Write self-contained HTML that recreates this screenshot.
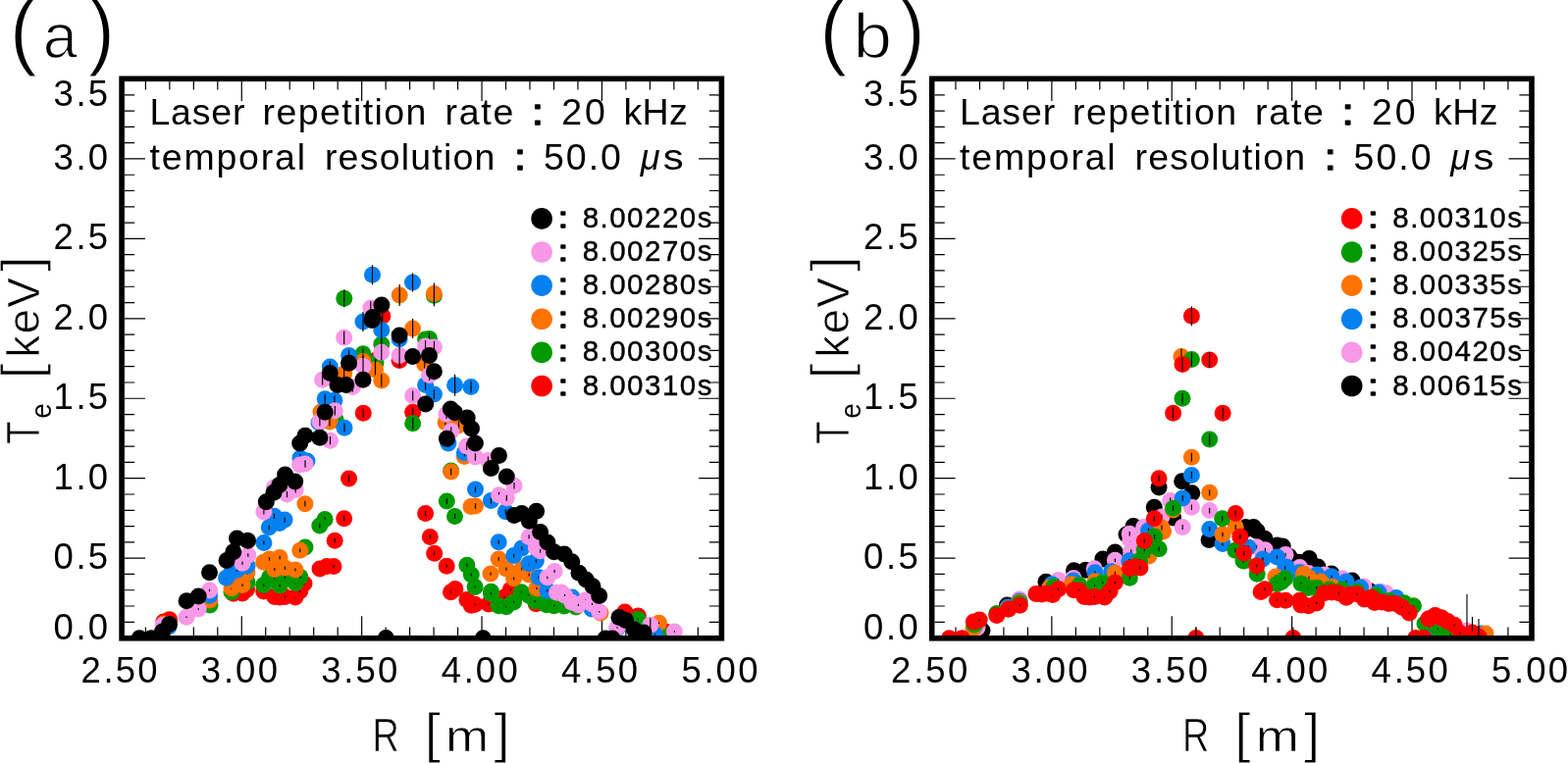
<!DOCTYPE html>
<html><head><meta charset="utf-8"><style>
html,body{margin:0;padding:0;background:#fff;width:1598px;height:778px;overflow:hidden}
svg{display:block}
text{font-family:"Liberation Sans", "DejaVu Sans", sans-serif;fill:#000}
</style></head><body>
<svg width="1598" height="778" viewBox="0 0 1598 778">
<rect width="1598" height="778" fill="#fff"/>
<g><clipPath id="clip0"><rect x="123.9" y="80.5" width="611.9" height="570.1"/></clipPath>
<path d="M148.38 648.2v-8.6M148.38 83v8.6M172.85 648.2v-8.6M172.85 83v8.6M197.33 648.2v-8.6M197.33 83v8.6M221.80 648.2v-8.6M221.80 83v8.6M246.28 648.2v-20M246.28 83v20M270.76 648.2v-8.6M270.76 83v8.6M295.23 648.2v-8.6M295.23 83v8.6M319.71 648.2v-8.6M319.71 83v8.6M344.18 648.2v-8.6M344.18 83v8.6M368.66 648.2v-20M368.66 83v20M393.14 648.2v-8.6M393.14 83v8.6M417.61 648.2v-8.6M417.61 83v8.6M442.09 648.2v-8.6M442.09 83v8.6M466.56 648.2v-8.6M466.56 83v8.6M491.04 648.2v-20M491.04 83v20M515.52 648.2v-8.6M515.52 83v8.6M539.99 648.2v-8.6M539.99 83v8.6M564.47 648.2v-8.6M564.47 83v8.6M588.94 648.2v-8.6M588.94 83v8.6M613.42 648.2v-20M613.42 83v20M637.90 648.2v-8.6M637.90 83v8.6M662.37 648.2v-8.6M662.37 83v8.6M686.85 648.2v-8.6M686.85 83v8.6M711.32 648.2v-8.6M711.32 83v8.6M127 634.31h10.2M733 634.31h-10.2M127 618.02h10.2M733 618.02h-10.2M127 601.73h10.2M733 601.73h-10.2M127 585.45h10.2M733 585.45h-10.2M127 569.16h21M733 569.16h-21M127 552.87h10.2M733 552.87h-10.2M127 536.58h10.2M733 536.58h-10.2M127 520.29h10.2M733 520.29h-10.2M127 504.00h10.2M733 504.00h-10.2M127 487.71h21M733 487.71h-21M127 471.43h10.2M733 471.43h-10.2M127 455.14h10.2M733 455.14h-10.2M127 438.85h10.2M733 438.85h-10.2M127 422.56h10.2M733 422.56h-10.2M127 406.27h21M733 406.27h-21M127 389.98h10.2M733 389.98h-10.2M127 373.69h10.2M733 373.69h-10.2M127 357.41h10.2M733 357.41h-10.2M127 341.12h10.2M733 341.12h-10.2M127 324.83h21M733 324.83h-21M127 308.54h10.2M733 308.54h-10.2M127 292.25h10.2M733 292.25h-10.2M127 275.96h10.2M733 275.96h-10.2M127 259.67h10.2M733 259.67h-10.2M127 243.39h21M733 243.39h-21M127 227.10h10.2M733 227.10h-10.2M127 210.81h10.2M733 210.81h-10.2M127 194.52h10.2M733 194.52h-10.2M127 178.23h10.2M733 178.23h-10.2M127 161.94h21M733 161.94h-21M127 145.65h10.2M733 145.65h-10.2M127 129.37h10.2M733 129.37h-10.2M127 113.08h10.2M733 113.08h-10.2M127 96.79h10.2M733 96.79h-10.2" stroke="#000" stroke-width="1.2" fill="none"/>
<g clip-path="url(#clip0)">
<circle cx="166.8" cy="634.0" r="8.5" fill="#ff0000"/>
<line x1="166.8" y1="633.3" x2="166.8" y2="634.7" stroke="#000" stroke-width="1.15"/>
<circle cx="172.7" cy="631.7" r="8.5" fill="#ff0000"/>
<line x1="172.7" y1="631.0" x2="172.7" y2="632.4" stroke="#000" stroke-width="1.15"/>
<circle cx="238.0" cy="605.3" r="8.5" fill="#ff0000"/>
<line x1="238.0" y1="604.2" x2="238.0" y2="606.4" stroke="#000" stroke-width="1.15"/>
<circle cx="247.0" cy="605.0" r="8.5" fill="#ff0000"/>
<line x1="247.0" y1="603.9" x2="247.0" y2="606.1" stroke="#000" stroke-width="1.15"/>
<circle cx="251.5" cy="601.0" r="8.5" fill="#ff0000"/>
<line x1="251.5" y1="599.8" x2="251.5" y2="602.2" stroke="#000" stroke-width="1.15"/>
<circle cx="268.7" cy="603.0" r="8.5" fill="#ff0000"/>
<line x1="268.7" y1="601.9" x2="268.7" y2="604.1" stroke="#000" stroke-width="1.15"/>
<circle cx="279.8" cy="608.5" r="8.5" fill="#ff0000"/>
<line x1="279.8" y1="607.5" x2="279.8" y2="609.5" stroke="#000" stroke-width="1.15"/>
<circle cx="285.1" cy="609.0" r="8.5" fill="#ff0000"/>
<line x1="285.1" y1="608.0" x2="285.1" y2="610.0" stroke="#000" stroke-width="1.15"/>
<circle cx="290.4" cy="608.5" r="8.5" fill="#ff0000"/>
<line x1="290.4" y1="607.5" x2="290.4" y2="609.5" stroke="#000" stroke-width="1.15"/>
<circle cx="301.0" cy="609.0" r="8.5" fill="#ff0000"/>
<line x1="301.0" y1="608.0" x2="301.0" y2="610.0" stroke="#000" stroke-width="1.15"/>
<circle cx="305.8" cy="602.7" r="8.5" fill="#ff0000"/>
<line x1="305.8" y1="601.6" x2="305.8" y2="603.8" stroke="#000" stroke-width="1.15"/>
<circle cx="310.0" cy="595.0" r="8.5" fill="#ff0000"/>
<line x1="310.0" y1="593.7" x2="310.0" y2="596.3" stroke="#000" stroke-width="1.15"/>
<circle cx="326.0" cy="579.9" r="8.5" fill="#ff0000"/>
<line x1="326.0" y1="578.3" x2="326.0" y2="581.5" stroke="#000" stroke-width="1.15"/>
<circle cx="350.7" cy="528.8" r="8.5" fill="#ff0000"/>
<line x1="350.7" y1="526.2" x2="350.7" y2="531.4" stroke="#000" stroke-width="1.15"/>
<circle cx="341.2" cy="551.3" r="8.5" fill="#ff0000"/>
<line x1="341.2" y1="549.1" x2="341.2" y2="553.5" stroke="#000" stroke-width="1.15"/>
<circle cx="355.6" cy="487.9" r="8.5" fill="#ff0000"/>
<line x1="355.6" y1="484.5" x2="355.6" y2="491.3" stroke="#000" stroke-width="1.15"/>
<circle cx="370.3" cy="421.2" r="8.5" fill="#ff0000"/>
<line x1="370.3" y1="416.5" x2="370.3" y2="425.9" stroke="#000" stroke-width="1.15"/>
<circle cx="389.8" cy="322.3" r="8.5" fill="#ff0000"/>
<line x1="389.8" y1="315.7" x2="389.8" y2="328.9" stroke="#000" stroke-width="1.15"/>
<circle cx="407.1" cy="367.4" r="8.5" fill="#ff0000"/>
<line x1="407.1" y1="361.6" x2="407.1" y2="373.2" stroke="#000" stroke-width="1.15"/>
<circle cx="382.5" cy="367.4" r="8.5" fill="#ff0000"/>
<line x1="382.5" y1="361.6" x2="382.5" y2="373.2" stroke="#000" stroke-width="1.15"/>
<circle cx="420.7" cy="420.2" r="8.5" fill="#ff0000"/>
<line x1="420.7" y1="415.5" x2="420.7" y2="424.9" stroke="#000" stroke-width="1.15"/>
<circle cx="433.6" cy="523.5" r="8.5" fill="#ff0000"/>
<line x1="433.6" y1="520.8" x2="433.6" y2="526.2" stroke="#000" stroke-width="1.15"/>
<circle cx="438.3" cy="547.4" r="8.5" fill="#ff0000"/>
<line x1="438.3" y1="545.2" x2="438.3" y2="549.6" stroke="#000" stroke-width="1.15"/>
<circle cx="442.7" cy="564.2" r="8.5" fill="#ff0000"/>
<line x1="442.7" y1="562.3" x2="442.7" y2="566.1" stroke="#000" stroke-width="1.15"/>
<circle cx="455.2" cy="577.2" r="8.5" fill="#ff0000"/>
<line x1="455.2" y1="575.6" x2="455.2" y2="578.8" stroke="#000" stroke-width="1.15"/>
<circle cx="463.9" cy="600.4" r="8.5" fill="#ff0000"/>
<line x1="463.9" y1="599.2" x2="463.9" y2="601.6" stroke="#000" stroke-width="1.15"/>
<circle cx="459.5" cy="603.7" r="8.5" fill="#ff0000"/>
<line x1="459.5" y1="602.6" x2="459.5" y2="604.8" stroke="#000" stroke-width="1.15"/>
<circle cx="520.3" cy="601.3" r="8.5" fill="#ff0000"/>
<line x1="520.3" y1="600.1" x2="520.3" y2="602.5" stroke="#000" stroke-width="1.15"/>
<circle cx="475.9" cy="611.5" r="8.5" fill="#ff0000"/>
<line x1="475.9" y1="610.5" x2="475.9" y2="612.5" stroke="#000" stroke-width="1.15"/>
<circle cx="480.3" cy="617.3" r="8.5" fill="#ff0000"/>
<line x1="480.3" y1="616.4" x2="480.3" y2="618.2" stroke="#000" stroke-width="1.15"/>
<circle cx="484.1" cy="616.3" r="8.5" fill="#ff0000"/>
<line x1="484.1" y1="615.4" x2="484.1" y2="617.2" stroke="#000" stroke-width="1.15"/>
<circle cx="498.0" cy="616.0" r="8.5" fill="#ff0000"/>
<line x1="498.0" y1="615.1" x2="498.0" y2="616.9" stroke="#000" stroke-width="1.15"/>
<circle cx="514.0" cy="609.0" r="8.5" fill="#ff0000"/>
<line x1="514.0" y1="608.0" x2="514.0" y2="610.0" stroke="#000" stroke-width="1.15"/>
<circle cx="546.3" cy="615.8" r="8.5" fill="#ff0000"/>
<line x1="546.3" y1="614.9" x2="546.3" y2="616.7" stroke="#000" stroke-width="1.15"/>
<circle cx="572.0" cy="614.0" r="8.5" fill="#ff0000"/>
<line x1="572.0" y1="613.1" x2="572.0" y2="614.9" stroke="#000" stroke-width="1.15"/>
<circle cx="636.8" cy="624.0" r="8.5" fill="#ff0000"/>
<line x1="636.8" y1="623.3" x2="636.8" y2="624.7" stroke="#000" stroke-width="1.15"/>
<circle cx="650.3" cy="628.0" r="8.5" fill="#ff0000"/>
<line x1="650.3" y1="627.3" x2="650.3" y2="628.7" stroke="#000" stroke-width="1.15"/>
<circle cx="678.2" cy="644.0" r="8.5" fill="#ff0000"/>
<line x1="678.2" y1="643.3" x2="678.2" y2="644.7" stroke="#000" stroke-width="1.15"/>
<circle cx="333.0" cy="577.5" r="8.5" fill="#ff0000"/>
<line x1="333.0" y1="575.9" x2="333.0" y2="579.1" stroke="#000" stroke-width="1.15"/>
<circle cx="340.0" cy="577.5" r="8.5" fill="#ff0000"/>
<line x1="340.0" y1="575.9" x2="340.0" y2="579.1" stroke="#000" stroke-width="1.15"/>
<circle cx="214.0" cy="616.9" r="8.5" fill="#009a00"/>
<line x1="214.0" y1="616.0" x2="214.0" y2="617.8" stroke="#000" stroke-width="1.15"/>
<circle cx="236.0" cy="603.4" r="8.5" fill="#009a00"/>
<line x1="236.0" y1="602.3" x2="236.0" y2="604.5" stroke="#000" stroke-width="1.15"/>
<circle cx="252.0" cy="593.6" r="8.5" fill="#009a00"/>
<line x1="252.0" y1="592.3" x2="252.0" y2="594.9" stroke="#000" stroke-width="1.15"/>
<circle cx="268.7" cy="596.5" r="8.5" fill="#009a00"/>
<line x1="268.7" y1="595.2" x2="268.7" y2="597.8" stroke="#000" stroke-width="1.15"/>
<circle cx="274.5" cy="588.7" r="8.5" fill="#009a00"/>
<line x1="274.5" y1="587.3" x2="274.5" y2="590.1" stroke="#000" stroke-width="1.15"/>
<circle cx="279.8" cy="590.2" r="8.5" fill="#009a00"/>
<line x1="279.8" y1="588.8" x2="279.8" y2="591.6" stroke="#000" stroke-width="1.15"/>
<circle cx="285.1" cy="597.0" r="8.5" fill="#009a00"/>
<line x1="285.1" y1="595.7" x2="285.1" y2="598.3" stroke="#000" stroke-width="1.15"/>
<circle cx="290.4" cy="588.3" r="8.5" fill="#009a00"/>
<line x1="290.4" y1="586.9" x2="290.4" y2="589.7" stroke="#000" stroke-width="1.15"/>
<circle cx="301.0" cy="594.5" r="8.5" fill="#009a00"/>
<line x1="301.0" y1="593.2" x2="301.0" y2="595.8" stroke="#000" stroke-width="1.15"/>
<circle cx="305.8" cy="588.3" r="8.5" fill="#009a00"/>
<line x1="305.8" y1="586.9" x2="305.8" y2="589.7" stroke="#000" stroke-width="1.15"/>
<circle cx="311.0" cy="558.0" r="8.5" fill="#009a00"/>
<line x1="311.0" y1="556.0" x2="311.0" y2="560.0" stroke="#000" stroke-width="1.15"/>
<circle cx="331.1" cy="529.6" r="8.5" fill="#009a00"/>
<line x1="331.1" y1="527.0" x2="331.1" y2="532.2" stroke="#000" stroke-width="1.15"/>
<circle cx="325.8" cy="535.9" r="8.5" fill="#009a00"/>
<line x1="325.8" y1="533.4" x2="325.8" y2="538.4" stroke="#000" stroke-width="1.15"/>
<circle cx="342.0" cy="428.0" r="8.5" fill="#009a00"/>
<line x1="342.0" y1="423.4" x2="342.0" y2="432.6" stroke="#000" stroke-width="1.15"/>
<circle cx="388.8" cy="351.0" r="8.5" fill="#009a00"/>
<line x1="388.8" y1="344.9" x2="388.8" y2="357.1" stroke="#000" stroke-width="1.15"/>
<circle cx="433.6" cy="346.0" r="8.5" fill="#009a00"/>
<line x1="433.6" y1="339.8" x2="433.6" y2="352.2" stroke="#000" stroke-width="1.15"/>
<circle cx="437.5" cy="345.5" r="8.5" fill="#009a00"/>
<line x1="437.5" y1="339.3" x2="437.5" y2="351.7" stroke="#000" stroke-width="1.15"/>
<circle cx="370.0" cy="360.7" r="8.5" fill="#009a00"/>
<line x1="370.0" y1="354.8" x2="370.0" y2="366.6" stroke="#000" stroke-width="1.15"/>
<circle cx="383.0" cy="370.0" r="8.5" fill="#009a00"/>
<line x1="383.0" y1="364.3" x2="383.0" y2="375.7" stroke="#000" stroke-width="1.15"/>
<circle cx="350.8" cy="304.3" r="8.5" fill="#009a00"/>
<line x1="350.8" y1="295.3" x2="350.8" y2="313.3" stroke="#000" stroke-width="1.15"/>
<circle cx="442.4" cy="301.3" r="8.5" fill="#009a00"/>
<line x1="442.4" y1="290.3" x2="442.4" y2="312.3" stroke="#000" stroke-width="1.15"/>
<circle cx="420.7" cy="431.8" r="8.5" fill="#009a00"/>
<line x1="420.7" y1="425.8" x2="420.7" y2="437.8" stroke="#000" stroke-width="1.15"/>
<circle cx="459.7" cy="480.0" r="8.5" fill="#009a00"/>
<line x1="459.7" y1="476.4" x2="459.7" y2="483.6" stroke="#000" stroke-width="1.15"/>
<circle cx="455.3" cy="511.0" r="8.5" fill="#009a00"/>
<line x1="455.3" y1="508.1" x2="455.3" y2="513.9" stroke="#000" stroke-width="1.15"/>
<circle cx="463.5" cy="526.4" r="8.5" fill="#009a00"/>
<line x1="463.5" y1="523.8" x2="463.5" y2="529.0" stroke="#000" stroke-width="1.15"/>
<circle cx="475.9" cy="576.3" r="8.5" fill="#009a00"/>
<line x1="475.9" y1="574.6" x2="475.9" y2="578.0" stroke="#000" stroke-width="1.15"/>
<circle cx="480.3" cy="585.9" r="8.5" fill="#009a00"/>
<line x1="480.3" y1="584.4" x2="480.3" y2="587.4" stroke="#000" stroke-width="1.15"/>
<circle cx="484.1" cy="598.4" r="8.5" fill="#009a00"/>
<line x1="484.1" y1="597.2" x2="484.1" y2="599.6" stroke="#000" stroke-width="1.15"/>
<circle cx="500.5" cy="603.3" r="8.5" fill="#009a00"/>
<line x1="500.5" y1="602.2" x2="500.5" y2="604.4" stroke="#000" stroke-width="1.15"/>
<circle cx="531.3" cy="603.7" r="8.5" fill="#009a00"/>
<line x1="531.3" y1="602.6" x2="531.3" y2="604.8" stroke="#000" stroke-width="1.15"/>
<circle cx="500.5" cy="605.2" r="8.5" fill="#009a00"/>
<line x1="500.5" y1="604.1" x2="500.5" y2="606.3" stroke="#000" stroke-width="1.15"/>
<circle cx="508.2" cy="617.8" r="8.5" fill="#009a00"/>
<line x1="508.2" y1="617.0" x2="508.2" y2="618.6" stroke="#000" stroke-width="1.15"/>
<circle cx="515.9" cy="618.7" r="8.5" fill="#009a00"/>
<line x1="515.9" y1="617.9" x2="515.9" y2="619.5" stroke="#000" stroke-width="1.15"/>
<circle cx="523.6" cy="613.9" r="8.5" fill="#009a00"/>
<line x1="523.6" y1="613.0" x2="523.6" y2="614.8" stroke="#000" stroke-width="1.15"/>
<circle cx="539.1" cy="607.2" r="8.5" fill="#009a00"/>
<line x1="539.1" y1="606.1" x2="539.1" y2="608.3" stroke="#000" stroke-width="1.15"/>
<circle cx="545.3" cy="613.0" r="8.5" fill="#009a00"/>
<line x1="545.3" y1="612.1" x2="545.3" y2="613.9" stroke="#000" stroke-width="1.15"/>
<circle cx="556.9" cy="616.8" r="8.5" fill="#009a00"/>
<line x1="556.9" y1="615.9" x2="556.9" y2="617.7" stroke="#000" stroke-width="1.15"/>
<circle cx="564.6" cy="617.8" r="8.5" fill="#009a00"/>
<line x1="564.6" y1="617.0" x2="564.6" y2="618.6" stroke="#000" stroke-width="1.15"/>
<circle cx="575.0" cy="618.0" r="8.5" fill="#009a00"/>
<line x1="575.0" y1="617.2" x2="575.0" y2="618.8" stroke="#000" stroke-width="1.15"/>
<circle cx="587.0" cy="619.0" r="8.5" fill="#009a00"/>
<line x1="587.0" y1="618.2" x2="587.0" y2="619.8" stroke="#000" stroke-width="1.15"/>
<circle cx="650.3" cy="631.5" r="8.5" fill="#009a00"/>
<line x1="650.3" y1="630.8" x2="650.3" y2="632.2" stroke="#000" stroke-width="1.15"/>
<circle cx="674.4" cy="646.9" r="8.5" fill="#009a00"/>
<line x1="674.4" y1="646.2" x2="674.4" y2="647.6" stroke="#000" stroke-width="1.15"/>
<circle cx="167.0" cy="636.0" r="8.5" fill="#ff7300"/>
<line x1="167.0" y1="635.3" x2="167.0" y2="636.7" stroke="#000" stroke-width="1.15"/>
<circle cx="213.8" cy="612.1" r="8.5" fill="#ff7300"/>
<line x1="213.8" y1="611.1" x2="213.8" y2="613.1" stroke="#000" stroke-width="1.15"/>
<circle cx="235.9" cy="599.8" r="8.5" fill="#ff7300"/>
<line x1="235.9" y1="598.6" x2="235.9" y2="601.0" stroke="#000" stroke-width="1.15"/>
<circle cx="241.7" cy="594.0" r="8.5" fill="#ff7300"/>
<line x1="241.7" y1="592.7" x2="241.7" y2="595.3" stroke="#000" stroke-width="1.15"/>
<circle cx="247.0" cy="596.6" r="8.5" fill="#ff7300"/>
<line x1="247.0" y1="595.3" x2="247.0" y2="597.9" stroke="#000" stroke-width="1.15"/>
<circle cx="252.0" cy="584.0" r="8.5" fill="#ff7300"/>
<line x1="252.0" y1="582.5" x2="252.0" y2="585.5" stroke="#000" stroke-width="1.15"/>
<circle cx="268.7" cy="573.3" r="8.5" fill="#ff7300"/>
<line x1="268.7" y1="571.6" x2="268.7" y2="575.0" stroke="#000" stroke-width="1.15"/>
<circle cx="274.5" cy="570.0" r="8.5" fill="#ff7300"/>
<line x1="274.5" y1="568.2" x2="274.5" y2="571.8" stroke="#000" stroke-width="1.15"/>
<circle cx="285.1" cy="568.5" r="8.5" fill="#ff7300"/>
<line x1="285.1" y1="566.7" x2="285.1" y2="570.3" stroke="#000" stroke-width="1.15"/>
<circle cx="279.8" cy="580.5" r="8.5" fill="#ff7300"/>
<line x1="279.8" y1="578.9" x2="279.8" y2="582.1" stroke="#000" stroke-width="1.15"/>
<circle cx="290.4" cy="579.1" r="8.5" fill="#ff7300"/>
<line x1="290.4" y1="577.5" x2="290.4" y2="580.7" stroke="#000" stroke-width="1.15"/>
<circle cx="301.0" cy="581.0" r="8.5" fill="#ff7300"/>
<line x1="301.0" y1="579.4" x2="301.0" y2="582.6" stroke="#000" stroke-width="1.15"/>
<circle cx="305.8" cy="561.3" r="8.5" fill="#ff7300"/>
<line x1="305.8" y1="559.3" x2="305.8" y2="563.3" stroke="#000" stroke-width="1.15"/>
<circle cx="310.9" cy="513.7" r="8.5" fill="#ff7300"/>
<line x1="310.9" y1="510.8" x2="310.9" y2="516.6" stroke="#000" stroke-width="1.15"/>
<circle cx="327.0" cy="420.0" r="8.5" fill="#ff7300"/>
<line x1="327.0" y1="415.3" x2="327.0" y2="424.7" stroke="#000" stroke-width="1.15"/>
<circle cx="336.0" cy="430.0" r="8.5" fill="#ff7300"/>
<line x1="336.0" y1="425.5" x2="336.0" y2="434.5" stroke="#000" stroke-width="1.15"/>
<circle cx="420.6" cy="335.1" r="8.5" fill="#ff7300"/>
<line x1="420.6" y1="325.1" x2="420.6" y2="345.1" stroke="#000" stroke-width="1.15"/>
<circle cx="432.7" cy="371.3" r="8.5" fill="#ff7300"/>
<line x1="432.7" y1="365.6" x2="432.7" y2="377.0" stroke="#000" stroke-width="1.15"/>
<circle cx="350.7" cy="380.9" r="8.5" fill="#ff7300"/>
<line x1="350.7" y1="375.4" x2="350.7" y2="386.4" stroke="#000" stroke-width="1.15"/>
<circle cx="370.0" cy="368.4" r="8.5" fill="#ff7300"/>
<line x1="370.0" y1="362.7" x2="370.0" y2="374.1" stroke="#000" stroke-width="1.15"/>
<circle cx="382.5" cy="377.1" r="8.5" fill="#ff7300"/>
<line x1="382.5" y1="367.1" x2="382.5" y2="387.1" stroke="#000" stroke-width="1.15"/>
<circle cx="388.8" cy="388.1" r="8.5" fill="#ff7300"/>
<line x1="388.8" y1="381.6" x2="388.8" y2="394.6" stroke="#000" stroke-width="1.15"/>
<circle cx="407.2" cy="301.0" r="8.5" fill="#ff7300"/>
<line x1="407.2" y1="290.0" x2="407.2" y2="312.0" stroke="#000" stroke-width="1.15"/>
<circle cx="442.4" cy="299.5" r="8.5" fill="#ff7300"/>
<line x1="442.4" y1="288.5" x2="442.4" y2="310.5" stroke="#000" stroke-width="1.15"/>
<circle cx="454.0" cy="430.8" r="8.5" fill="#ff7300"/>
<line x1="454.0" y1="426.3" x2="454.0" y2="435.3" stroke="#000" stroke-width="1.15"/>
<circle cx="467.5" cy="433.7" r="8.5" fill="#ff7300"/>
<line x1="467.5" y1="429.2" x2="467.5" y2="438.2" stroke="#000" stroke-width="1.15"/>
<circle cx="473.3" cy="465.6" r="8.5" fill="#ff7300"/>
<line x1="473.3" y1="461.8" x2="473.3" y2="469.4" stroke="#000" stroke-width="1.15"/>
<circle cx="459.7" cy="481.1" r="8.5" fill="#ff7300"/>
<line x1="459.7" y1="477.6" x2="459.7" y2="484.6" stroke="#000" stroke-width="1.15"/>
<circle cx="480.0" cy="516.5" r="8.5" fill="#ff7300"/>
<line x1="480.0" y1="513.7" x2="480.0" y2="519.3" stroke="#000" stroke-width="1.15"/>
<circle cx="484.5" cy="516.0" r="8.5" fill="#ff7300"/>
<line x1="484.5" y1="513.2" x2="484.5" y2="518.8" stroke="#000" stroke-width="1.15"/>
<circle cx="508.2" cy="570.0" r="8.5" fill="#ff7300"/>
<line x1="508.2" y1="568.2" x2="508.2" y2="571.8" stroke="#000" stroke-width="1.15"/>
<circle cx="500.0" cy="585.0" r="8.5" fill="#ff7300"/>
<line x1="500.0" y1="583.5" x2="500.0" y2="586.5" stroke="#000" stroke-width="1.15"/>
<circle cx="515.9" cy="580.1" r="8.5" fill="#ff7300"/>
<line x1="515.9" y1="578.5" x2="515.9" y2="581.7" stroke="#000" stroke-width="1.15"/>
<circle cx="523.6" cy="589.8" r="8.5" fill="#ff7300"/>
<line x1="523.6" y1="588.4" x2="523.6" y2="591.2" stroke="#000" stroke-width="1.15"/>
<circle cx="531.8" cy="580.1" r="8.5" fill="#ff7300"/>
<line x1="531.8" y1="578.5" x2="531.8" y2="581.7" stroke="#000" stroke-width="1.15"/>
<circle cx="539.1" cy="585.9" r="8.5" fill="#ff7300"/>
<line x1="539.1" y1="584.4" x2="539.1" y2="587.4" stroke="#000" stroke-width="1.15"/>
<circle cx="547.0" cy="600.0" r="8.5" fill="#ff7300"/>
<line x1="547.0" y1="598.8" x2="547.0" y2="601.2" stroke="#000" stroke-width="1.15"/>
<circle cx="612.0" cy="625.0" r="8.5" fill="#ff7300"/>
<line x1="612.0" y1="624.3" x2="612.0" y2="625.7" stroke="#000" stroke-width="1.15"/>
<circle cx="671.5" cy="635.3" r="8.5" fill="#ff7300"/>
<line x1="671.5" y1="634.6" x2="671.5" y2="636.0" stroke="#000" stroke-width="1.15"/>
<circle cx="172.0" cy="639.0" r="8.5" fill="#0580f0"/>
<line x1="172.0" y1="638.3" x2="172.0" y2="639.7" stroke="#000" stroke-width="1.15"/>
<circle cx="213.5" cy="607.2" r="8.5" fill="#0580f0"/>
<line x1="213.5" y1="606.1" x2="213.5" y2="608.3" stroke="#000" stroke-width="1.15"/>
<circle cx="230.6" cy="589.2" r="8.5" fill="#0580f0"/>
<line x1="230.6" y1="587.8" x2="230.6" y2="590.6" stroke="#000" stroke-width="1.15"/>
<circle cx="235.9" cy="583.4" r="8.5" fill="#0580f0"/>
<line x1="235.9" y1="581.9" x2="235.9" y2="584.9" stroke="#000" stroke-width="1.15"/>
<circle cx="241.7" cy="581.0" r="8.5" fill="#0580f0"/>
<line x1="241.7" y1="579.4" x2="241.7" y2="582.6" stroke="#000" stroke-width="1.15"/>
<circle cx="252.0" cy="577.0" r="8.5" fill="#0580f0"/>
<line x1="252.0" y1="575.4" x2="252.0" y2="578.6" stroke="#000" stroke-width="1.15"/>
<circle cx="268.9" cy="553.5" r="8.5" fill="#0580f0"/>
<line x1="268.9" y1="551.4" x2="268.9" y2="555.6" stroke="#000" stroke-width="1.15"/>
<circle cx="274.2" cy="537.8" r="8.5" fill="#0580f0"/>
<line x1="274.2" y1="535.4" x2="274.2" y2="540.2" stroke="#000" stroke-width="1.15"/>
<circle cx="284.8" cy="533.5" r="8.5" fill="#0580f0"/>
<line x1="284.8" y1="531.0" x2="284.8" y2="536.0" stroke="#000" stroke-width="1.15"/>
<circle cx="290.1" cy="530.1" r="8.5" fill="#0580f0"/>
<line x1="290.1" y1="527.5" x2="290.1" y2="532.7" stroke="#000" stroke-width="1.15"/>
<circle cx="279.5" cy="526.3" r="8.5" fill="#0580f0"/>
<line x1="279.5" y1="523.7" x2="279.5" y2="528.9" stroke="#000" stroke-width="1.15"/>
<circle cx="306.0" cy="467.0" r="8.5" fill="#0580f0"/>
<line x1="306.0" y1="463.2" x2="306.0" y2="470.8" stroke="#000" stroke-width="1.15"/>
<circle cx="313.0" cy="470.0" r="8.5" fill="#0580f0"/>
<line x1="313.0" y1="466.3" x2="313.0" y2="473.7" stroke="#000" stroke-width="1.15"/>
<circle cx="325.0" cy="431.0" r="8.5" fill="#0580f0"/>
<line x1="325.0" y1="426.5" x2="325.0" y2="435.5" stroke="#000" stroke-width="1.15"/>
<circle cx="331.2" cy="406.7" r="8.5" fill="#0580f0"/>
<line x1="331.2" y1="401.7" x2="331.2" y2="411.7" stroke="#000" stroke-width="1.15"/>
<circle cx="340.9" cy="408.2" r="8.5" fill="#0580f0"/>
<line x1="340.9" y1="403.2" x2="340.9" y2="413.2" stroke="#000" stroke-width="1.15"/>
<circle cx="351.0" cy="436.2" r="8.5" fill="#0580f0"/>
<line x1="351.0" y1="431.8" x2="351.0" y2="440.6" stroke="#000" stroke-width="1.15"/>
<circle cx="370.0" cy="327.9" r="8.5" fill="#0580f0"/>
<line x1="370.0" y1="317.9" x2="370.0" y2="337.9" stroke="#000" stroke-width="1.15"/>
<circle cx="388.8" cy="336.6" r="8.5" fill="#0580f0"/>
<line x1="388.8" y1="323.6" x2="388.8" y2="349.6" stroke="#000" stroke-width="1.15"/>
<circle cx="407.1" cy="345.7" r="8.5" fill="#0580f0"/>
<line x1="407.1" y1="339.5" x2="407.1" y2="351.9" stroke="#000" stroke-width="1.15"/>
<circle cx="433.6" cy="392.5" r="8.5" fill="#0580f0"/>
<line x1="433.6" y1="387.2" x2="433.6" y2="397.8" stroke="#000" stroke-width="1.15"/>
<circle cx="336.3" cy="374.0" r="8.5" fill="#0580f0"/>
<line x1="336.3" y1="368.4" x2="336.3" y2="379.6" stroke="#000" stroke-width="1.15"/>
<circle cx="355.6" cy="362.6" r="8.5" fill="#0580f0"/>
<line x1="355.6" y1="356.7" x2="355.6" y2="368.5" stroke="#000" stroke-width="1.15"/>
<circle cx="379.5" cy="280.2" r="8.5" fill="#0580f0"/>
<line x1="379.5" y1="270.2" x2="379.5" y2="290.2" stroke="#000" stroke-width="1.15"/>
<circle cx="420.5" cy="288.0" r="8.5" fill="#0580f0"/>
<line x1="420.5" y1="278.5" x2="420.5" y2="297.5" stroke="#000" stroke-width="1.15"/>
<circle cx="442.4" cy="402.0" r="8.5" fill="#0580f0"/>
<line x1="442.4" y1="396.9" x2="442.4" y2="407.1" stroke="#000" stroke-width="1.15"/>
<circle cx="463.6" cy="392.7" r="8.5" fill="#0580f0"/>
<line x1="463.6" y1="381.7" x2="463.6" y2="403.7" stroke="#000" stroke-width="1.15"/>
<circle cx="480.0" cy="394.4" r="8.5" fill="#0580f0"/>
<line x1="480.0" y1="388.4" x2="480.0" y2="400.4" stroke="#000" stroke-width="1.15"/>
<circle cx="456.9" cy="452.0" r="8.5" fill="#0580f0"/>
<line x1="456.9" y1="447.9" x2="456.9" y2="456.1" stroke="#000" stroke-width="1.15"/>
<circle cx="473.3" cy="461.7" r="8.5" fill="#0580f0"/>
<line x1="473.3" y1="457.8" x2="473.3" y2="465.6" stroke="#000" stroke-width="1.15"/>
<circle cx="484.5" cy="499.0" r="8.5" fill="#0580f0"/>
<line x1="484.5" y1="495.8" x2="484.5" y2="502.2" stroke="#000" stroke-width="1.15"/>
<circle cx="500.4" cy="510.6" r="8.5" fill="#0580f0"/>
<line x1="500.4" y1="507.6" x2="500.4" y2="513.6" stroke="#000" stroke-width="1.15"/>
<circle cx="515.3" cy="521.7" r="8.5" fill="#0580f0"/>
<line x1="515.3" y1="519.0" x2="515.3" y2="524.4" stroke="#000" stroke-width="1.15"/>
<circle cx="508.2" cy="552.7" r="8.5" fill="#0580f0"/>
<line x1="508.2" y1="550.6" x2="508.2" y2="554.8" stroke="#000" stroke-width="1.15"/>
<circle cx="523.6" cy="566.6" r="8.5" fill="#0580f0"/>
<line x1="523.6" y1="564.7" x2="523.6" y2="568.5" stroke="#000" stroke-width="1.15"/>
<circle cx="531.8" cy="558.9" r="8.5" fill="#0580f0"/>
<line x1="531.8" y1="556.9" x2="531.8" y2="560.9" stroke="#000" stroke-width="1.15"/>
<circle cx="539.1" cy="574.8" r="8.5" fill="#0580f0"/>
<line x1="539.1" y1="573.1" x2="539.1" y2="576.5" stroke="#000" stroke-width="1.15"/>
<circle cx="546.3" cy="571.9" r="8.5" fill="#0580f0"/>
<line x1="546.3" y1="570.2" x2="546.3" y2="573.6" stroke="#000" stroke-width="1.15"/>
<circle cx="549.2" cy="588.8" r="8.5" fill="#0580f0"/>
<line x1="549.2" y1="587.4" x2="549.2" y2="590.2" stroke="#000" stroke-width="1.15"/>
<circle cx="557.9" cy="602.3" r="8.5" fill="#0580f0"/>
<line x1="557.9" y1="601.2" x2="557.9" y2="603.4" stroke="#000" stroke-width="1.15"/>
<circle cx="583.0" cy="609.0" r="8.5" fill="#0580f0"/>
<line x1="583.0" y1="608.0" x2="583.0" y2="610.0" stroke="#000" stroke-width="1.15"/>
<circle cx="603.0" cy="621.0" r="8.5" fill="#0580f0"/>
<line x1="603.0" y1="620.2" x2="603.0" y2="621.8" stroke="#000" stroke-width="1.15"/>
<circle cx="629.0" cy="641.0" r="8.5" fill="#0580f0"/>
<line x1="629.0" y1="640.3" x2="629.0" y2="641.7" stroke="#000" stroke-width="1.15"/>
<circle cx="667.6" cy="646.9" r="8.5" fill="#0580f0"/>
<line x1="667.6" y1="646.2" x2="667.6" y2="647.6" stroke="#000" stroke-width="1.15"/>
<circle cx="166.0" cy="637.5" r="8.5" fill="#f898e8"/>
<line x1="166.0" y1="636.8" x2="166.0" y2="638.2" stroke="#000" stroke-width="1.15"/>
<circle cx="202.2" cy="621.0" r="8.5" fill="#f898e8"/>
<line x1="202.2" y1="620.2" x2="202.2" y2="621.8" stroke="#000" stroke-width="1.15"/>
<circle cx="190.1" cy="629.2" r="8.5" fill="#f898e8"/>
<line x1="190.1" y1="628.5" x2="190.1" y2="629.9" stroke="#000" stroke-width="1.15"/>
<circle cx="213.5" cy="601.9" r="8.5" fill="#f898e8"/>
<line x1="213.5" y1="600.7" x2="213.5" y2="603.1" stroke="#000" stroke-width="1.15"/>
<circle cx="252.8" cy="566.1" r="8.5" fill="#f898e8"/>
<line x1="252.8" y1="564.2" x2="252.8" y2="568.0" stroke="#000" stroke-width="1.15"/>
<circle cx="247.0" cy="574.3" r="8.5" fill="#f898e8"/>
<line x1="247.0" y1="572.6" x2="247.0" y2="576.0" stroke="#000" stroke-width="1.15"/>
<circle cx="268.9" cy="521.9" r="8.5" fill="#f898e8"/>
<line x1="268.9" y1="519.2" x2="268.9" y2="524.6" stroke="#000" stroke-width="1.15"/>
<circle cx="292.5" cy="504.1" r="8.5" fill="#f898e8"/>
<line x1="292.5" y1="501.0" x2="292.5" y2="507.2" stroke="#000" stroke-width="1.15"/>
<circle cx="301.2" cy="499.3" r="8.5" fill="#f898e8"/>
<line x1="301.2" y1="496.1" x2="301.2" y2="502.5" stroke="#000" stroke-width="1.15"/>
<circle cx="305.7" cy="474.0" r="8.5" fill="#f898e8"/>
<line x1="305.7" y1="470.3" x2="305.7" y2="477.7" stroke="#000" stroke-width="1.15"/>
<circle cx="311.0" cy="473.0" r="8.5" fill="#f898e8"/>
<line x1="311.0" y1="469.3" x2="311.0" y2="476.7" stroke="#000" stroke-width="1.15"/>
<circle cx="336.5" cy="449.2" r="8.5" fill="#f898e8"/>
<line x1="336.5" y1="445.0" x2="336.5" y2="453.4" stroke="#000" stroke-width="1.15"/>
<circle cx="325.9" cy="429.9" r="8.5" fill="#f898e8"/>
<line x1="325.9" y1="425.4" x2="325.9" y2="434.4" stroke="#000" stroke-width="1.15"/>
<circle cx="341.3" cy="418.8" r="8.5" fill="#f898e8"/>
<line x1="341.3" y1="414.0" x2="341.3" y2="423.6" stroke="#000" stroke-width="1.15"/>
<circle cx="350.7" cy="344.3" r="8.5" fill="#f898e8"/>
<line x1="350.7" y1="337.6" x2="350.7" y2="351.0" stroke="#000" stroke-width="1.15"/>
<circle cx="388.8" cy="359.2" r="8.5" fill="#f898e8"/>
<line x1="388.8" y1="351.2" x2="388.8" y2="367.2" stroke="#000" stroke-width="1.15"/>
<circle cx="407.1" cy="362.6" r="8.5" fill="#f898e8"/>
<line x1="407.1" y1="350.6" x2="407.1" y2="374.6" stroke="#000" stroke-width="1.15"/>
<circle cx="433.6" cy="353.0" r="8.5" fill="#f898e8"/>
<line x1="433.6" y1="347.0" x2="433.6" y2="359.0" stroke="#000" stroke-width="1.15"/>
<circle cx="437.6" cy="382.5" r="8.5" fill="#f898e8"/>
<line x1="437.6" y1="377.0" x2="437.6" y2="388.0" stroke="#000" stroke-width="1.15"/>
<circle cx="420.7" cy="403.5" r="8.5" fill="#f898e8"/>
<line x1="420.7" y1="398.4" x2="420.7" y2="408.6" stroke="#000" stroke-width="1.15"/>
<circle cx="328.6" cy="387.2" r="8.5" fill="#f898e8"/>
<line x1="328.6" y1="381.8" x2="328.6" y2="392.6" stroke="#000" stroke-width="1.15"/>
<circle cx="370.0" cy="373.2" r="8.5" fill="#f898e8"/>
<line x1="370.0" y1="360.7" x2="370.0" y2="385.7" stroke="#000" stroke-width="1.15"/>
<circle cx="359.4" cy="394.4" r="8.5" fill="#f898e8"/>
<line x1="359.4" y1="389.2" x2="359.4" y2="399.6" stroke="#000" stroke-width="1.15"/>
<circle cx="377.8" cy="314.0" r="8.5" fill="#f898e8"/>
<line x1="377.8" y1="307.2" x2="377.8" y2="320.8" stroke="#000" stroke-width="1.15"/>
<circle cx="442.4" cy="354.1" r="8.5" fill="#f898e8"/>
<line x1="442.4" y1="348.1" x2="442.4" y2="360.1" stroke="#000" stroke-width="1.15"/>
<circle cx="455.0" cy="422.2" r="8.5" fill="#f898e8"/>
<line x1="455.0" y1="417.5" x2="455.0" y2="426.9" stroke="#000" stroke-width="1.15"/>
<circle cx="459.8" cy="439.5" r="8.5" fill="#f898e8"/>
<line x1="459.8" y1="435.2" x2="459.8" y2="443.8" stroke="#000" stroke-width="1.15"/>
<circle cx="475.7" cy="455.0" r="8.5" fill="#f898e8"/>
<line x1="475.7" y1="451.0" x2="475.7" y2="459.0" stroke="#000" stroke-width="1.15"/>
<circle cx="484.4" cy="466.0" r="8.5" fill="#f898e8"/>
<line x1="484.4" y1="462.2" x2="484.4" y2="469.8" stroke="#000" stroke-width="1.15"/>
<circle cx="497.4" cy="469.4" r="8.5" fill="#f898e8"/>
<line x1="497.4" y1="465.6" x2="497.4" y2="473.2" stroke="#000" stroke-width="1.15"/>
<circle cx="524.0" cy="495.2" r="8.5" fill="#f898e8"/>
<line x1="524.0" y1="491.9" x2="524.0" y2="498.5" stroke="#000" stroke-width="1.15"/>
<circle cx="508.6" cy="504.8" r="8.5" fill="#f898e8"/>
<line x1="508.6" y1="501.7" x2="508.6" y2="507.9" stroke="#000" stroke-width="1.15"/>
<circle cx="516.3" cy="507.7" r="8.5" fill="#f898e8"/>
<line x1="516.3" y1="504.7" x2="516.3" y2="510.7" stroke="#000" stroke-width="1.15"/>
<circle cx="539.1" cy="547.4" r="8.5" fill="#f898e8"/>
<line x1="539.1" y1="545.2" x2="539.1" y2="549.6" stroke="#000" stroke-width="1.15"/>
<circle cx="546.3" cy="558.4" r="8.5" fill="#f898e8"/>
<line x1="546.3" y1="556.4" x2="546.3" y2="560.4" stroke="#000" stroke-width="1.15"/>
<circle cx="550.6" cy="561.8" r="8.5" fill="#f898e8"/>
<line x1="550.6" y1="559.9" x2="550.6" y2="563.7" stroke="#000" stroke-width="1.15"/>
<circle cx="557.9" cy="588.8" r="8.5" fill="#f898e8"/>
<line x1="557.9" y1="587.4" x2="557.9" y2="590.2" stroke="#000" stroke-width="1.15"/>
<circle cx="565.1" cy="582.5" r="8.5" fill="#f898e8"/>
<line x1="565.1" y1="581.0" x2="565.1" y2="584.0" stroke="#000" stroke-width="1.15"/>
<circle cx="567.5" cy="604.3" r="8.5" fill="#f898e8"/>
<line x1="567.5" y1="603.2" x2="567.5" y2="605.4" stroke="#000" stroke-width="1.15"/>
<circle cx="572.2" cy="604.1" r="8.5" fill="#f898e8"/>
<line x1="572.2" y1="603.0" x2="572.2" y2="605.2" stroke="#000" stroke-width="1.15"/>
<circle cx="575.5" cy="607.0" r="8.5" fill="#f898e8"/>
<line x1="575.5" y1="605.9" x2="575.5" y2="608.1" stroke="#000" stroke-width="1.15"/>
<circle cx="582.8" cy="614.2" r="8.5" fill="#f898e8"/>
<line x1="582.8" y1="613.3" x2="582.8" y2="615.1" stroke="#000" stroke-width="1.15"/>
<circle cx="596.8" cy="611.8" r="8.5" fill="#f898e8"/>
<line x1="596.8" y1="610.8" x2="596.8" y2="612.8" stroke="#000" stroke-width="1.15"/>
<circle cx="589.5" cy="617.0" r="8.5" fill="#f898e8"/>
<line x1="589.5" y1="616.1" x2="589.5" y2="617.9" stroke="#000" stroke-width="1.15"/>
<circle cx="603.5" cy="616.0" r="8.5" fill="#f898e8"/>
<line x1="603.5" y1="615.1" x2="603.5" y2="616.9" stroke="#000" stroke-width="1.15"/>
<circle cx="610.7" cy="623.7" r="8.5" fill="#f898e8"/>
<line x1="610.7" y1="623.0" x2="610.7" y2="624.4" stroke="#000" stroke-width="1.15"/>
<circle cx="629.0" cy="640.0" r="8.5" fill="#f898e8"/>
<line x1="629.0" y1="639.3" x2="629.0" y2="640.7" stroke="#000" stroke-width="1.15"/>
<circle cx="662.8" cy="637.2" r="8.5" fill="#f898e8"/>
<line x1="662.8" y1="630.2" x2="662.8" y2="644.2" stroke="#000" stroke-width="1.15"/>
<circle cx="687.4" cy="644.0" r="8.5" fill="#f898e8"/>
<line x1="687.4" y1="643.3" x2="687.4" y2="644.7" stroke="#000" stroke-width="1.15"/>
<circle cx="279.5" cy="497.0" r="8.5" fill="#f898e8"/>
<line x1="279.5" y1="493.8" x2="279.5" y2="500.2" stroke="#000" stroke-width="1.15"/>
<circle cx="142.1" cy="650.7" r="8.5" fill="#000000"/>
<line x1="142.1" y1="650.0" x2="142.1" y2="651.4" stroke="#000" stroke-width="1.15"/>
<circle cx="154.2" cy="650.7" r="8.5" fill="#000000"/>
<line x1="154.2" y1="650.0" x2="154.2" y2="651.4" stroke="#000" stroke-width="1.15"/>
<circle cx="172.5" cy="636.5" r="8.5" fill="#000000"/>
<line x1="172.5" y1="635.8" x2="172.5" y2="637.2" stroke="#000" stroke-width="1.15"/>
<circle cx="165.5" cy="644.0" r="8.5" fill="#000000"/>
<line x1="165.5" y1="643.3" x2="165.5" y2="644.7" stroke="#000" stroke-width="1.15"/>
<circle cx="190.1" cy="612.8" r="8.5" fill="#000000"/>
<line x1="190.1" y1="611.9" x2="190.1" y2="613.7" stroke="#000" stroke-width="1.15"/>
<circle cx="202.2" cy="608.0" r="8.5" fill="#000000"/>
<line x1="202.2" y1="607.0" x2="202.2" y2="609.0" stroke="#000" stroke-width="1.15"/>
<circle cx="213.5" cy="583.7" r="8.5" fill="#000000"/>
<line x1="213.5" y1="582.2" x2="213.5" y2="585.2" stroke="#000" stroke-width="1.15"/>
<circle cx="231.1" cy="571.4" r="8.5" fill="#000000"/>
<line x1="231.1" y1="569.6" x2="231.1" y2="573.2" stroke="#000" stroke-width="1.15"/>
<circle cx="237.8" cy="562.7" r="8.5" fill="#000000"/>
<line x1="237.8" y1="560.8" x2="237.8" y2="564.6" stroke="#000" stroke-width="1.15"/>
<circle cx="241.5" cy="548.9" r="8.5" fill="#000000"/>
<line x1="241.5" y1="546.7" x2="241.5" y2="551.1" stroke="#000" stroke-width="1.15"/>
<circle cx="252.5" cy="551.3" r="8.5" fill="#000000"/>
<line x1="252.5" y1="549.1" x2="252.5" y2="553.5" stroke="#000" stroke-width="1.15"/>
<circle cx="271.3" cy="511.8" r="8.5" fill="#000000"/>
<line x1="271.3" y1="508.9" x2="271.3" y2="514.7" stroke="#000" stroke-width="1.15"/>
<circle cx="279.0" cy="502.2" r="8.5" fill="#000000"/>
<line x1="279.0" y1="499.1" x2="279.0" y2="505.3" stroke="#000" stroke-width="1.15"/>
<circle cx="284.8" cy="494.5" r="8.5" fill="#000000"/>
<line x1="284.8" y1="491.2" x2="284.8" y2="497.8" stroke="#000" stroke-width="1.15"/>
<circle cx="290.6" cy="483.9" r="8.5" fill="#000000"/>
<line x1="290.6" y1="480.4" x2="290.6" y2="487.4" stroke="#000" stroke-width="1.15"/>
<circle cx="300.7" cy="491.1" r="8.5" fill="#000000"/>
<line x1="300.7" y1="487.8" x2="300.7" y2="494.4" stroke="#000" stroke-width="1.15"/>
<circle cx="305.7" cy="452.1" r="8.5" fill="#000000"/>
<line x1="305.7" y1="448.0" x2="305.7" y2="456.2" stroke="#000" stroke-width="1.15"/>
<circle cx="311.0" cy="444.3" r="8.5" fill="#000000"/>
<line x1="311.0" y1="440.0" x2="311.0" y2="448.6" stroke="#000" stroke-width="1.15"/>
<circle cx="325.9" cy="446.3" r="8.5" fill="#000000"/>
<line x1="325.9" y1="442.1" x2="325.9" y2="450.5" stroke="#000" stroke-width="1.15"/>
<circle cx="331.2" cy="420.2" r="8.5" fill="#000000"/>
<line x1="331.2" y1="415.5" x2="331.2" y2="424.9" stroke="#000" stroke-width="1.15"/>
<circle cx="379.2" cy="326.4" r="8.5" fill="#000000"/>
<line x1="379.2" y1="319.8" x2="379.2" y2="333.0" stroke="#000" stroke-width="1.15"/>
<circle cx="407.1" cy="341.9" r="8.5" fill="#000000"/>
<line x1="407.1" y1="335.6" x2="407.1" y2="348.2" stroke="#000" stroke-width="1.15"/>
<circle cx="420.6" cy="363.6" r="8.5" fill="#000000"/>
<line x1="420.6" y1="357.8" x2="420.6" y2="369.4" stroke="#000" stroke-width="1.15"/>
<circle cx="437.5" cy="362.6" r="8.5" fill="#000000"/>
<line x1="437.5" y1="356.7" x2="437.5" y2="368.5" stroke="#000" stroke-width="1.15"/>
<circle cx="442.4" cy="378.7" r="8.5" fill="#000000"/>
<line x1="442.4" y1="373.2" x2="442.4" y2="384.2" stroke="#000" stroke-width="1.15"/>
<circle cx="336.3" cy="380.4" r="8.5" fill="#000000"/>
<line x1="336.3" y1="374.9" x2="336.3" y2="385.9" stroke="#000" stroke-width="1.15"/>
<circle cx="355.6" cy="370.3" r="8.5" fill="#000000"/>
<line x1="355.6" y1="364.6" x2="355.6" y2="376.0" stroke="#000" stroke-width="1.15"/>
<circle cx="370.0" cy="387.2" r="8.5" fill="#000000"/>
<line x1="370.0" y1="381.8" x2="370.0" y2="392.6" stroke="#000" stroke-width="1.15"/>
<circle cx="344.0" cy="392.5" r="8.5" fill="#000000"/>
<line x1="344.0" y1="387.2" x2="344.0" y2="397.8" stroke="#000" stroke-width="1.15"/>
<circle cx="352.7" cy="392.5" r="8.5" fill="#000000"/>
<line x1="352.7" y1="387.2" x2="352.7" y2="397.8" stroke="#000" stroke-width="1.15"/>
<circle cx="388.9" cy="311.1" r="8.5" fill="#000000"/>
<line x1="388.9" y1="304.2" x2="388.9" y2="318.0" stroke="#000" stroke-width="1.15"/>
<circle cx="379.8" cy="323.6" r="8.5" fill="#000000"/>
<line x1="379.8" y1="317.0" x2="379.8" y2="330.2" stroke="#000" stroke-width="1.15"/>
<circle cx="433.7" cy="412.1" r="8.5" fill="#000000"/>
<line x1="433.7" y1="407.2" x2="433.7" y2="417.0" stroke="#000" stroke-width="1.15"/>
<circle cx="459.3" cy="416.9" r="8.5" fill="#000000"/>
<line x1="459.3" y1="412.1" x2="459.3" y2="421.7" stroke="#000" stroke-width="1.15"/>
<circle cx="463.6" cy="420.7" r="8.5" fill="#000000"/>
<line x1="463.6" y1="416.0" x2="463.6" y2="425.4" stroke="#000" stroke-width="1.15"/>
<circle cx="476.2" cy="426.0" r="8.5" fill="#000000"/>
<line x1="476.2" y1="421.4" x2="476.2" y2="430.6" stroke="#000" stroke-width="1.15"/>
<circle cx="480.5" cy="437.1" r="8.5" fill="#000000"/>
<line x1="480.5" y1="432.7" x2="480.5" y2="441.5" stroke="#000" stroke-width="1.15"/>
<circle cx="455.4" cy="447.2" r="8.5" fill="#000000"/>
<line x1="455.4" y1="443.0" x2="455.4" y2="451.4" stroke="#000" stroke-width="1.15"/>
<circle cx="484.4" cy="452.1" r="8.5" fill="#000000"/>
<line x1="484.4" y1="448.0" x2="484.4" y2="456.2" stroke="#000" stroke-width="1.15"/>
<circle cx="508.5" cy="464.6" r="8.5" fill="#000000"/>
<line x1="508.5" y1="460.7" x2="508.5" y2="468.5" stroke="#000" stroke-width="1.15"/>
<circle cx="500.4" cy="477.4" r="8.5" fill="#000000"/>
<line x1="500.4" y1="473.8" x2="500.4" y2="481.0" stroke="#000" stroke-width="1.15"/>
<circle cx="516.3" cy="486.0" r="8.5" fill="#000000"/>
<line x1="516.3" y1="482.6" x2="516.3" y2="489.4" stroke="#000" stroke-width="1.15"/>
<circle cx="524.0" cy="525.6" r="8.5" fill="#000000"/>
<line x1="524.0" y1="522.9" x2="524.0" y2="528.3" stroke="#000" stroke-width="1.15"/>
<circle cx="531.7" cy="523.6" r="8.5" fill="#000000"/>
<line x1="531.7" y1="520.9" x2="531.7" y2="526.3" stroke="#000" stroke-width="1.15"/>
<circle cx="546.6" cy="521.2" r="8.5" fill="#000000"/>
<line x1="546.6" y1="518.5" x2="546.6" y2="523.9" stroke="#000" stroke-width="1.15"/>
<circle cx="539.4" cy="531.3" r="8.5" fill="#000000"/>
<line x1="539.4" y1="528.8" x2="539.4" y2="533.8" stroke="#000" stroke-width="1.15"/>
<circle cx="550.6" cy="542.5" r="8.5" fill="#000000"/>
<line x1="550.6" y1="540.2" x2="550.6" y2="544.8" stroke="#000" stroke-width="1.15"/>
<circle cx="557.9" cy="553.1" r="8.5" fill="#000000"/>
<line x1="557.9" y1="551.0" x2="557.9" y2="555.2" stroke="#000" stroke-width="1.15"/>
<circle cx="564.6" cy="562.8" r="8.5" fill="#000000"/>
<line x1="564.6" y1="560.9" x2="564.6" y2="564.7" stroke="#000" stroke-width="1.15"/>
<circle cx="492.3" cy="650.8" r="8.5" fill="#000000"/>
<line x1="492.3" y1="650.1" x2="492.3" y2="651.5" stroke="#000" stroke-width="1.15"/>
<circle cx="393.3" cy="650.6" r="8.5" fill="#000000"/>
<line x1="393.3" y1="649.9" x2="393.3" y2="651.3" stroke="#000" stroke-width="1.15"/>
<circle cx="575.1" cy="565.1" r="8.5" fill="#000000"/>
<line x1="575.1" y1="563.2" x2="575.1" y2="567.0" stroke="#000" stroke-width="1.15"/>
<circle cx="582.8" cy="572.8" r="8.5" fill="#000000"/>
<line x1="582.8" y1="571.1" x2="582.8" y2="574.5" stroke="#000" stroke-width="1.15"/>
<circle cx="590.0" cy="584.3" r="8.5" fill="#000000"/>
<line x1="590.0" y1="582.8" x2="590.0" y2="585.8" stroke="#000" stroke-width="1.15"/>
<circle cx="597.2" cy="591.1" r="8.5" fill="#000000"/>
<line x1="597.2" y1="589.7" x2="597.2" y2="592.5" stroke="#000" stroke-width="1.15"/>
<circle cx="604.0" cy="597.8" r="8.5" fill="#000000"/>
<line x1="604.0" y1="596.6" x2="604.0" y2="599.0" stroke="#000" stroke-width="1.15"/>
<circle cx="610.7" cy="607.5" r="8.5" fill="#000000"/>
<line x1="610.7" y1="606.5" x2="610.7" y2="608.5" stroke="#000" stroke-width="1.15"/>
<circle cx="617.0" cy="651.0" r="8.5" fill="#000000"/>
<line x1="617.0" y1="650.3" x2="617.0" y2="651.7" stroke="#000" stroke-width="1.15"/>
<circle cx="624.0" cy="651.0" r="8.5" fill="#000000"/>
<line x1="624.0" y1="650.3" x2="624.0" y2="651.7" stroke="#000" stroke-width="1.15"/>
<circle cx="631.0" cy="629.5" r="8.5" fill="#000000"/>
<line x1="631.0" y1="628.8" x2="631.0" y2="630.2" stroke="#000" stroke-width="1.15"/>
<circle cx="637.7" cy="632.4" r="8.5" fill="#000000"/>
<line x1="637.7" y1="631.7" x2="637.7" y2="633.1" stroke="#000" stroke-width="1.15"/>
<circle cx="646.4" cy="642.1" r="8.5" fill="#000000"/>
<line x1="646.4" y1="641.4" x2="646.4" y2="642.8" stroke="#000" stroke-width="1.15"/>
<circle cx="656.0" cy="645.0" r="8.5" fill="#000000"/>
<line x1="656.0" y1="644.3" x2="656.0" y2="645.7" stroke="#000" stroke-width="1.15"/>
</g>
<rect x="124.1" y="80.3" width="611.3" height="570.5" fill="none" stroke="#000" stroke-width="5.6"/>
<text y="652.10" font-size="36.5" text-anchor="middle" x="64.65 82.5 99.95">0.0</text>
<text y="579.96" font-size="36.5" text-anchor="middle" x="64.65 82.5 99.95">0.5</text>
<text y="498.51" font-size="36.5" text-anchor="middle" x="64.65 82.5 99.95">1.0</text>
<text y="417.07" font-size="36.5" text-anchor="middle" x="64.65 82.5 99.95">1.5</text>
<text y="335.63" font-size="36.5" text-anchor="middle" x="64.65 82.5 99.95">2.0</text>
<text y="254.19" font-size="36.5" text-anchor="middle" x="64.65 82.5 99.95">2.5</text>
<text y="172.74" font-size="36.5" text-anchor="middle" x="64.65 82.5 99.95">3.0</text>
<text y="107.80" font-size="36.5" text-anchor="middle" x="64.65 82.5 99.95">3.5</text>
<text y="695.7" font-size="36.5" text-anchor="middle" x="92.65 110.65 127.85 150.50">2.50</text>
<text y="695.7" font-size="36.5" text-anchor="middle" x="215.03 233.03 250.23 272.88">3.00</text>
<text y="695.7" font-size="36.5" text-anchor="middle" x="337.41 355.41 372.61 395.26">3.50</text>
<text y="695.7" font-size="36.5" text-anchor="middle" x="459.79 477.79 494.99 517.64">4.00</text>
<text y="695.7" font-size="36.5" text-anchor="middle" x="582.17 600.17 617.37 640.02">4.50</text>
<text y="695.7" font-size="36.5" text-anchor="middle" x="704.55 722.55 739.75 762.40">5.00</text>
<text x="379.41" y="766.00" font-size="49" textLength="27.34" lengthAdjust="spacingAndGlyphs" stroke="#fff" stroke-width="0.7">R</text>
<text x="432.20" y="766.00" font-size="55" textLength="16.95" lengthAdjust="spacingAndGlyphs" stroke="#fff" stroke-width="1.2">[</text>
<text x="454.07" y="766.00" font-size="45" textLength="44.15" lengthAdjust="spacingAndGlyphs" stroke="#fff" stroke-width="0.7">m</text>
<text x="503.18" y="766.00" font-size="55" textLength="16.95" lengthAdjust="spacingAndGlyphs" stroke="#fff" stroke-width="1.2">]</text>
<g transform="translate(39.8 451.8) rotate(-90)"><text x="-0.88" y="0.00" font-size="49" textLength="23.30" lengthAdjust="spacingAndGlyphs" stroke="#fff" stroke-width="0.7">T</text><text x="25.00" y="11.90" font-size="29" textLength="15.51" lengthAdjust="spacingAndGlyphs">e</text><text x="65.35" y="0.00" font-size="55" textLength="15.98" lengthAdjust="spacingAndGlyphs" stroke="#fff" stroke-width="1.2">[</text><text x="87.08" y="0.00" font-size="46" textLength="81.57" lengthAdjust="spacing" stroke="#fff" stroke-width="0.7">keV</text><text x="174.81" y="0.00" font-size="55" textLength="15.98" lengthAdjust="spacingAndGlyphs" stroke="#fff" stroke-width="1.2">]</text></g>
<text x="152.38" y="126.90" font-size="37.5" textLength="97.18" lengthAdjust="spacing">Laser</text>
<text x="267.50" y="126.90" font-size="37.5" textLength="166.92" lengthAdjust="spacing">repetition</text>
<text x="453.50" y="126.90" font-size="37.5" textLength="69.82" lengthAdjust="spacing">rate</text>
<text x="542.08" y="126.90" font-size="37.5" textLength="11.78" lengthAdjust="spacingAndGlyphs" stroke="#000" stroke-width="1.6" stroke-linejoin="round">:</text>
<text x="572.33" y="126.90" font-size="37.5" textLength="44.64" lengthAdjust="spacing">20</text>
<text x="635.50" y="126.90" font-size="37.5" textLength="65.33" lengthAdjust="spacing">kHz</text>
<text x="152.50" y="172.50" font-size="37.5" textLength="158.60" lengthAdjust="spacing">temporal</text>
<text x="330.90" y="172.50" font-size="37.5" textLength="173.57" lengthAdjust="spacing">resolution</text>
<text x="524.38" y="172.50" font-size="37.5" textLength="11.50" lengthAdjust="spacingAndGlyphs" stroke="#000" stroke-width="1.6" stroke-linejoin="round">:</text>
<text x="554.00" y="172.50" font-size="37.5" textLength="78.98" lengthAdjust="spacing">50.0</text>
<text x="675.88" y="172.50" font-size="37.5" textLength="20.95" lengthAdjust="spacingAndGlyphs">s</text>
<text x="652.72" y="172.50" font-size="37.5" textLength="19.80" lengthAdjust="spacingAndGlyphs" font-style="italic">μ</text>
<circle cx="552.1" cy="222.9" r="10.8" fill="#000000"/>
<text x="568.71" y="232.00" font-size="29.5" textLength="10.26" lengthAdjust="spacingAndGlyphs" stroke="#000" stroke-width="1.4" stroke-linejoin="round">:</text>
<text x="593.65" y="232.00" font-size="29.5" textLength="131.76" lengthAdjust="spacing" stroke="#000" stroke-width="0.4">8.00220s</text>
<circle cx="552.1" cy="257.0" r="10.8" fill="#f898e8"/>
<text x="568.71" y="266.12" font-size="29.5" textLength="10.26" lengthAdjust="spacingAndGlyphs" stroke="#000" stroke-width="1.4" stroke-linejoin="round">:</text>
<text x="593.65" y="266.12" font-size="29.5" textLength="131.76" lengthAdjust="spacing" stroke="#000" stroke-width="0.4">8.00270s</text>
<circle cx="552.1" cy="291.1" r="10.8" fill="#0580f0"/>
<text x="568.71" y="300.24" font-size="29.5" textLength="10.26" lengthAdjust="spacingAndGlyphs" stroke="#000" stroke-width="1.4" stroke-linejoin="round">:</text>
<text x="593.65" y="300.24" font-size="29.5" textLength="131.76" lengthAdjust="spacing" stroke="#000" stroke-width="0.4">8.00280s</text>
<circle cx="552.1" cy="325.3" r="10.8" fill="#ff7300"/>
<text x="568.71" y="334.36" font-size="29.5" textLength="10.26" lengthAdjust="spacingAndGlyphs" stroke="#000" stroke-width="1.4" stroke-linejoin="round">:</text>
<text x="593.65" y="334.36" font-size="29.5" textLength="131.76" lengthAdjust="spacing" stroke="#000" stroke-width="0.4">8.00290s</text>
<circle cx="552.1" cy="359.4" r="10.8" fill="#009a00"/>
<text x="568.71" y="368.48" font-size="29.5" textLength="10.26" lengthAdjust="spacingAndGlyphs" stroke="#000" stroke-width="1.4" stroke-linejoin="round">:</text>
<text x="593.65" y="368.48" font-size="29.5" textLength="131.76" lengthAdjust="spacing" stroke="#000" stroke-width="0.4">8.00300s</text>
<circle cx="552.1" cy="393.5" r="10.8" fill="#ff0000"/>
<text x="568.71" y="402.60" font-size="29.5" textLength="10.26" lengthAdjust="spacingAndGlyphs" stroke="#000" stroke-width="1.4" stroke-linejoin="round">:</text>
<text x="593.65" y="402.60" font-size="29.5" textLength="131.76" lengthAdjust="spacing" stroke="#000" stroke-width="0.4">8.00310s</text>
<text x="9.67" y="59.50" font-size="88" textLength="27.86" lengthAdjust="spacingAndGlyphs" stroke="#fff" stroke-width="1.2">(</text>
<text x="43.63" y="58.60" font-size="65" textLength="35.09" lengthAdjust="spacingAndGlyphs" stroke="#fff" stroke-width="1.4">a</text>
<text x="90.04" y="59.50" font-size="88" textLength="26.95" lengthAdjust="spacingAndGlyphs" stroke="#fff" stroke-width="1.2">)</text></g>
<g transform="translate(825.6 0)"><clipPath id="clip1"><rect x="123.9" y="80.5" width="611.9" height="570.1"/></clipPath>
<path d="M148.38 648.2v-8.6M148.38 83v8.6M172.85 648.2v-8.6M172.85 83v8.6M197.33 648.2v-8.6M197.33 83v8.6M221.80 648.2v-8.6M221.80 83v8.6M246.28 648.2v-20M246.28 83v20M270.76 648.2v-8.6M270.76 83v8.6M295.23 648.2v-8.6M295.23 83v8.6M319.71 648.2v-8.6M319.71 83v8.6M344.18 648.2v-8.6M344.18 83v8.6M368.66 648.2v-20M368.66 83v20M393.14 648.2v-8.6M393.14 83v8.6M417.61 648.2v-8.6M417.61 83v8.6M442.09 648.2v-8.6M442.09 83v8.6M466.56 648.2v-8.6M466.56 83v8.6M491.04 648.2v-20M491.04 83v20M515.52 648.2v-8.6M515.52 83v8.6M539.99 648.2v-8.6M539.99 83v8.6M564.47 648.2v-8.6M564.47 83v8.6M588.94 648.2v-8.6M588.94 83v8.6M613.42 648.2v-20M613.42 83v20M637.90 648.2v-8.6M637.90 83v8.6M662.37 648.2v-8.6M662.37 83v8.6M686.85 648.2v-8.6M686.85 83v8.6M711.32 648.2v-8.6M711.32 83v8.6M127 634.31h10.2M733 634.31h-10.2M127 618.02h10.2M733 618.02h-10.2M127 601.73h10.2M733 601.73h-10.2M127 585.45h10.2M733 585.45h-10.2M127 569.16h21M733 569.16h-21M127 552.87h10.2M733 552.87h-10.2M127 536.58h10.2M733 536.58h-10.2M127 520.29h10.2M733 520.29h-10.2M127 504.00h10.2M733 504.00h-10.2M127 487.71h21M733 487.71h-21M127 471.43h10.2M733 471.43h-10.2M127 455.14h10.2M733 455.14h-10.2M127 438.85h10.2M733 438.85h-10.2M127 422.56h10.2M733 422.56h-10.2M127 406.27h21M733 406.27h-21M127 389.98h10.2M733 389.98h-10.2M127 373.69h10.2M733 373.69h-10.2M127 357.41h10.2M733 357.41h-10.2M127 341.12h10.2M733 341.12h-10.2M127 324.83h21M733 324.83h-21M127 308.54h10.2M733 308.54h-10.2M127 292.25h10.2M733 292.25h-10.2M127 275.96h10.2M733 275.96h-10.2M127 259.67h10.2M733 259.67h-10.2M127 243.39h21M733 243.39h-21M127 227.10h10.2M733 227.10h-10.2M127 210.81h10.2M733 210.81h-10.2M127 194.52h10.2M733 194.52h-10.2M127 178.23h10.2M733 178.23h-10.2M127 161.94h21M733 161.94h-21M127 145.65h10.2M733 145.65h-10.2M127 129.37h10.2M733 129.37h-10.2M127 113.08h10.2M733 113.08h-10.2M127 96.79h10.2M733 96.79h-10.2" stroke="#000" stroke-width="1.2" fill="none"/>
<g clip-path="url(#clip1)">
<circle cx="175.4" cy="643.0" r="8.5" fill="#000000"/>
<line x1="175.4" y1="642.3" x2="175.4" y2="643.7" stroke="#000" stroke-width="1.15"/>
<circle cx="200.9" cy="617.0" r="8.5" fill="#000000"/>
<line x1="200.9" y1="616.1" x2="200.9" y2="617.9" stroke="#000" stroke-width="1.15"/>
<circle cx="240.4" cy="593.3" r="8.5" fill="#000000"/>
<line x1="240.4" y1="592.0" x2="240.4" y2="594.6" stroke="#000" stroke-width="1.15"/>
<circle cx="268.9" cy="581.8" r="8.5" fill="#000000"/>
<line x1="268.9" y1="580.2" x2="268.9" y2="583.4" stroke="#000" stroke-width="1.15"/>
<circle cx="280.9" cy="581.3" r="8.5" fill="#000000"/>
<line x1="280.9" y1="579.7" x2="280.9" y2="582.9" stroke="#000" stroke-width="1.15"/>
<circle cx="298.3" cy="569.9" r="8.5" fill="#000000"/>
<line x1="298.3" y1="568.1" x2="298.3" y2="571.7" stroke="#000" stroke-width="1.15"/>
<circle cx="310.8" cy="563.0" r="8.5" fill="#000000"/>
<line x1="310.8" y1="561.1" x2="310.8" y2="564.9" stroke="#000" stroke-width="1.15"/>
<circle cx="325.4" cy="548.0" r="8.5" fill="#000000"/>
<line x1="325.4" y1="545.8" x2="325.4" y2="550.2" stroke="#000" stroke-width="1.15"/>
<circle cx="379.1" cy="490.7" r="8.5" fill="#000000"/>
<line x1="379.1" y1="487.4" x2="379.1" y2="494.0" stroke="#000" stroke-width="1.15"/>
<circle cx="355.5" cy="497.0" r="8.5" fill="#000000"/>
<line x1="355.5" y1="493.8" x2="355.5" y2="500.2" stroke="#000" stroke-width="1.15"/>
<circle cx="389.2" cy="502.8" r="8.5" fill="#000000"/>
<line x1="389.2" y1="499.7" x2="389.2" y2="505.9" stroke="#000" stroke-width="1.15"/>
<circle cx="370.0" cy="528.0" r="8.5" fill="#000000"/>
<line x1="370.0" y1="525.4" x2="370.0" y2="530.6" stroke="#000" stroke-width="1.15"/>
<circle cx="350.7" cy="517.2" r="8.5" fill="#000000"/>
<line x1="350.7" y1="514.4" x2="350.7" y2="520.0" stroke="#000" stroke-width="1.15"/>
<circle cx="329.5" cy="536.5" r="8.5" fill="#000000"/>
<line x1="329.5" y1="534.1" x2="329.5" y2="538.9" stroke="#000" stroke-width="1.15"/>
<circle cx="444.2" cy="537.5" r="8.5" fill="#000000"/>
<line x1="444.2" y1="535.1" x2="444.2" y2="539.9" stroke="#000" stroke-width="1.15"/>
<circle cx="451.9" cy="537.5" r="8.5" fill="#000000"/>
<line x1="451.9" y1="535.1" x2="451.9" y2="539.9" stroke="#000" stroke-width="1.15"/>
<circle cx="445.0" cy="539.5" r="8.5" fill="#000000"/>
<line x1="445.0" y1="537.1" x2="445.0" y2="541.9" stroke="#000" stroke-width="1.15"/>
<circle cx="455.6" cy="541.5" r="8.5" fill="#000000"/>
<line x1="455.6" y1="539.2" x2="455.6" y2="543.8" stroke="#000" stroke-width="1.15"/>
<circle cx="463.3" cy="549.2" r="8.5" fill="#000000"/>
<line x1="463.3" y1="547.0" x2="463.3" y2="551.4" stroke="#000" stroke-width="1.15"/>
<circle cx="475.9" cy="555.9" r="8.5" fill="#000000"/>
<line x1="475.9" y1="553.8" x2="475.9" y2="558.0" stroke="#000" stroke-width="1.15"/>
<circle cx="481.6" cy="556.9" r="8.5" fill="#000000"/>
<line x1="481.6" y1="554.9" x2="481.6" y2="558.9" stroke="#000" stroke-width="1.15"/>
<circle cx="488.4" cy="567.5" r="8.5" fill="#000000"/>
<line x1="488.4" y1="565.7" x2="488.4" y2="569.3" stroke="#000" stroke-width="1.15"/>
<circle cx="508.6" cy="569.4" r="8.5" fill="#000000"/>
<line x1="508.6" y1="567.6" x2="508.6" y2="571.2" stroke="#000" stroke-width="1.15"/>
<circle cx="498.0" cy="573.3" r="8.5" fill="#000000"/>
<line x1="498.0" y1="571.6" x2="498.0" y2="575.0" stroke="#000" stroke-width="1.15"/>
<circle cx="406.5" cy="550.6" r="8.5" fill="#000000"/>
<line x1="406.5" y1="548.4" x2="406.5" y2="552.8" stroke="#000" stroke-width="1.15"/>
<circle cx="517.4" cy="578.0" r="8.5" fill="#000000"/>
<line x1="517.4" y1="576.4" x2="517.4" y2="579.6" stroke="#000" stroke-width="1.15"/>
<circle cx="531.4" cy="584.9" r="8.5" fill="#000000"/>
<line x1="531.4" y1="583.4" x2="531.4" y2="586.4" stroke="#000" stroke-width="1.15"/>
<circle cx="552.4" cy="592.1" r="8.5" fill="#000000"/>
<line x1="552.4" y1="590.8" x2="552.4" y2="593.4" stroke="#000" stroke-width="1.15"/>
<circle cx="570.4" cy="602.7" r="8.5" fill="#000000"/>
<line x1="570.4" y1="601.6" x2="570.4" y2="603.8" stroke="#000" stroke-width="1.15"/>
<circle cx="634.4" cy="650.0" r="8.5" fill="#000000"/>
<line x1="634.4" y1="649.3" x2="634.4" y2="650.7" stroke="#000" stroke-width="1.15"/>
<circle cx="322.4" cy="545.0" r="8.5" fill="#000000"/>
<line x1="322.4" y1="542.7" x2="322.4" y2="547.3" stroke="#000" stroke-width="1.15"/>
<circle cx="170.4" cy="640.0" r="8.5" fill="#f898e8"/>
<line x1="170.4" y1="639.3" x2="170.4" y2="640.7" stroke="#000" stroke-width="1.15"/>
<circle cx="213.4" cy="611.0" r="8.5" fill="#f898e8"/>
<line x1="213.4" y1="610.0" x2="213.4" y2="612.0" stroke="#000" stroke-width="1.15"/>
<circle cx="253.0" cy="591.4" r="8.5" fill="#f898e8"/>
<line x1="253.0" y1="590.0" x2="253.0" y2="592.8" stroke="#000" stroke-width="1.15"/>
<circle cx="268.4" cy="589.5" r="8.5" fill="#f898e8"/>
<line x1="268.4" y1="588.1" x2="268.4" y2="590.9" stroke="#000" stroke-width="1.15"/>
<circle cx="289.6" cy="579.8" r="8.5" fill="#f898e8"/>
<line x1="289.6" y1="578.2" x2="289.6" y2="581.4" stroke="#000" stroke-width="1.15"/>
<circle cx="310.8" cy="571.3" r="8.5" fill="#f898e8"/>
<line x1="310.8" y1="569.5" x2="310.8" y2="573.1" stroke="#000" stroke-width="1.15"/>
<circle cx="326.2" cy="550.6" r="8.5" fill="#f898e8"/>
<line x1="326.2" y1="548.4" x2="326.2" y2="552.8" stroke="#000" stroke-width="1.15"/>
<circle cx="327.2" cy="562.2" r="8.5" fill="#f898e8"/>
<line x1="327.2" y1="560.3" x2="327.2" y2="564.1" stroke="#000" stroke-width="1.15"/>
<circle cx="367.1" cy="510.5" r="8.5" fill="#f898e8"/>
<line x1="367.1" y1="507.5" x2="367.1" y2="513.5" stroke="#000" stroke-width="1.15"/>
<circle cx="388.8" cy="517.2" r="8.5" fill="#f898e8"/>
<line x1="388.8" y1="514.4" x2="388.8" y2="520.0" stroke="#000" stroke-width="1.15"/>
<circle cx="407.1" cy="520.6" r="8.5" fill="#f898e8"/>
<line x1="407.1" y1="517.8" x2="407.1" y2="523.4" stroke="#000" stroke-width="1.15"/>
<circle cx="358.4" cy="527.0" r="8.5" fill="#f898e8"/>
<line x1="358.4" y1="524.4" x2="358.4" y2="529.6" stroke="#000" stroke-width="1.15"/>
<circle cx="340.1" cy="537.5" r="8.5" fill="#f898e8"/>
<line x1="340.1" y1="535.1" x2="340.1" y2="539.9" stroke="#000" stroke-width="1.15"/>
<circle cx="325.6" cy="544.2" r="8.5" fill="#f898e8"/>
<line x1="325.6" y1="541.9" x2="325.6" y2="546.5" stroke="#000" stroke-width="1.15"/>
<circle cx="379.6" cy="537.5" r="8.5" fill="#f898e8"/>
<line x1="379.6" y1="535.1" x2="379.6" y2="539.9" stroke="#000" stroke-width="1.15"/>
<circle cx="455.1" cy="557.8" r="8.5" fill="#f898e8"/>
<line x1="455.1" y1="555.8" x2="455.1" y2="559.8" stroke="#000" stroke-width="1.15"/>
<circle cx="463.8" cy="560.7" r="8.5" fill="#f898e8"/>
<line x1="463.8" y1="558.7" x2="463.8" y2="562.7" stroke="#000" stroke-width="1.15"/>
<circle cx="484.5" cy="565.6" r="8.5" fill="#f898e8"/>
<line x1="484.5" y1="563.7" x2="484.5" y2="567.5" stroke="#000" stroke-width="1.15"/>
<circle cx="442.4" cy="572.0" r="8.5" fill="#f898e8"/>
<line x1="442.4" y1="570.3" x2="442.4" y2="573.7" stroke="#000" stroke-width="1.15"/>
<circle cx="499.0" cy="578.6" r="8.5" fill="#f898e8"/>
<line x1="499.0" y1="577.0" x2="499.0" y2="580.2" stroke="#000" stroke-width="1.15"/>
<circle cx="499.4" cy="584.0" r="8.5" fill="#f898e8"/>
<line x1="499.4" y1="582.5" x2="499.4" y2="585.5" stroke="#000" stroke-width="1.15"/>
<circle cx="507.9" cy="584.4" r="8.5" fill="#f898e8"/>
<line x1="507.9" y1="582.9" x2="507.9" y2="585.9" stroke="#000" stroke-width="1.15"/>
<circle cx="524.4" cy="586.0" r="8.5" fill="#f898e8"/>
<line x1="524.4" y1="584.5" x2="524.4" y2="587.5" stroke="#000" stroke-width="1.15"/>
<circle cx="542.4" cy="589.7" r="8.5" fill="#f898e8"/>
<line x1="542.4" y1="588.3" x2="542.4" y2="591.1" stroke="#000" stroke-width="1.15"/>
<circle cx="564.4" cy="598.0" r="8.5" fill="#f898e8"/>
<line x1="564.4" y1="596.8" x2="564.4" y2="599.2" stroke="#000" stroke-width="1.15"/>
<circle cx="581.4" cy="603.2" r="8.5" fill="#f898e8"/>
<line x1="581.4" y1="602.1" x2="581.4" y2="604.3" stroke="#000" stroke-width="1.15"/>
<circle cx="586.9" cy="604.7" r="8.5" fill="#f898e8"/>
<line x1="586.9" y1="603.6" x2="586.9" y2="605.8" stroke="#000" stroke-width="1.15"/>
<circle cx="669.4" cy="643.0" r="8.5" fill="#f898e8"/>
<line x1="669.4" y1="606.0" x2="669.4" y2="680.0" stroke="#000" stroke-width="1.15"/>
<circle cx="167.4" cy="639.0" r="8.5" fill="#0580f0"/>
<line x1="167.4" y1="638.3" x2="167.4" y2="639.7" stroke="#000" stroke-width="1.15"/>
<circle cx="201.4" cy="619.0" r="8.5" fill="#0580f0"/>
<line x1="201.4" y1="618.2" x2="201.4" y2="619.8" stroke="#000" stroke-width="1.15"/>
<circle cx="213.4" cy="613.0" r="8.5" fill="#0580f0"/>
<line x1="213.4" y1="612.1" x2="213.4" y2="613.9" stroke="#000" stroke-width="1.15"/>
<circle cx="246.4" cy="595.7" r="8.5" fill="#0580f0"/>
<line x1="246.4" y1="594.4" x2="246.4" y2="597.0" stroke="#000" stroke-width="1.15"/>
<circle cx="268.4" cy="592.0" r="8.5" fill="#0580f0"/>
<line x1="268.4" y1="590.6" x2="268.4" y2="593.4" stroke="#000" stroke-width="1.15"/>
<circle cx="290.4" cy="583.7" r="8.5" fill="#0580f0"/>
<line x1="290.4" y1="582.2" x2="290.4" y2="585.2" stroke="#000" stroke-width="1.15"/>
<circle cx="306.9" cy="582.7" r="8.5" fill="#0580f0"/>
<line x1="306.9" y1="581.2" x2="306.9" y2="584.2" stroke="#000" stroke-width="1.15"/>
<circle cx="325.3" cy="571.8" r="8.5" fill="#0580f0"/>
<line x1="325.3" y1="570.1" x2="325.3" y2="573.5" stroke="#000" stroke-width="1.15"/>
<circle cx="388.8" cy="484.5" r="8.5" fill="#0580f0"/>
<line x1="388.8" y1="481.0" x2="388.8" y2="488.0" stroke="#000" stroke-width="1.15"/>
<circle cx="379.6" cy="508.1" r="8.5" fill="#0580f0"/>
<line x1="379.6" y1="505.1" x2="379.6" y2="511.1" stroke="#000" stroke-width="1.15"/>
<circle cx="344.9" cy="541.0" r="8.5" fill="#0580f0"/>
<line x1="344.9" y1="538.6" x2="344.9" y2="543.4" stroke="#000" stroke-width="1.15"/>
<circle cx="407.1" cy="539.4" r="8.5" fill="#0580f0"/>
<line x1="407.1" y1="537.0" x2="407.1" y2="541.8" stroke="#000" stroke-width="1.15"/>
<circle cx="446.4" cy="558.0" r="8.5" fill="#0580f0"/>
<line x1="446.4" y1="556.0" x2="446.4" y2="560.0" stroke="#000" stroke-width="1.15"/>
<circle cx="475.9" cy="568.0" r="8.5" fill="#0580f0"/>
<line x1="475.9" y1="566.2" x2="475.9" y2="569.8" stroke="#000" stroke-width="1.15"/>
<circle cx="461.4" cy="570.0" r="8.5" fill="#0580f0"/>
<line x1="461.4" y1="568.2" x2="461.4" y2="571.8" stroke="#000" stroke-width="1.15"/>
<circle cx="485.4" cy="578.0" r="8.5" fill="#0580f0"/>
<line x1="485.4" y1="576.4" x2="485.4" y2="579.6" stroke="#000" stroke-width="1.15"/>
<circle cx="420.4" cy="554.5" r="8.5" fill="#0580f0"/>
<line x1="420.4" y1="552.4" x2="420.4" y2="556.6" stroke="#000" stroke-width="1.15"/>
<circle cx="484.1" cy="579.0" r="8.5" fill="#0580f0"/>
<line x1="484.1" y1="577.4" x2="484.1" y2="580.6" stroke="#000" stroke-width="1.15"/>
<circle cx="499.0" cy="583.4" r="8.5" fill="#0580f0"/>
<line x1="499.0" y1="581.9" x2="499.0" y2="584.9" stroke="#000" stroke-width="1.15"/>
<circle cx="500.4" cy="587.8" r="8.5" fill="#0580f0"/>
<line x1="500.4" y1="586.4" x2="500.4" y2="589.2" stroke="#000" stroke-width="1.15"/>
<circle cx="516.4" cy="585.9" r="8.5" fill="#0580f0"/>
<line x1="516.4" y1="584.4" x2="516.4" y2="587.4" stroke="#000" stroke-width="1.15"/>
<circle cx="531.4" cy="587.8" r="8.5" fill="#0580f0"/>
<line x1="531.4" y1="586.4" x2="531.4" y2="589.2" stroke="#000" stroke-width="1.15"/>
<circle cx="546.4" cy="593.0" r="8.5" fill="#0580f0"/>
<line x1="546.4" y1="591.7" x2="546.4" y2="594.3" stroke="#000" stroke-width="1.15"/>
<circle cx="560.9" cy="598.9" r="8.5" fill="#0580f0"/>
<line x1="560.9" y1="597.7" x2="560.9" y2="600.1" stroke="#000" stroke-width="1.15"/>
<circle cx="579.4" cy="604.0" r="8.5" fill="#0580f0"/>
<line x1="579.4" y1="602.9" x2="579.4" y2="605.1" stroke="#000" stroke-width="1.15"/>
<circle cx="597.4" cy="609.5" r="8.5" fill="#0580f0"/>
<line x1="597.4" y1="608.5" x2="597.4" y2="610.5" stroke="#000" stroke-width="1.15"/>
<circle cx="636.4" cy="646.0" r="8.5" fill="#0580f0"/>
<line x1="636.4" y1="645.3" x2="636.4" y2="646.7" stroke="#000" stroke-width="1.15"/>
<circle cx="684.4" cy="646.0" r="8.5" fill="#0580f0"/>
<line x1="684.4" y1="645.3" x2="684.4" y2="646.7" stroke="#000" stroke-width="1.15"/>
<circle cx="166.4" cy="641.0" r="8.5" fill="#ff7300"/>
<line x1="166.4" y1="640.3" x2="166.4" y2="641.7" stroke="#000" stroke-width="1.15"/>
<circle cx="201.4" cy="621.0" r="8.5" fill="#ff7300"/>
<line x1="201.4" y1="620.2" x2="201.4" y2="621.8" stroke="#000" stroke-width="1.15"/>
<circle cx="213.4" cy="614.0" r="8.5" fill="#ff7300"/>
<line x1="213.4" y1="613.1" x2="213.4" y2="614.9" stroke="#000" stroke-width="1.15"/>
<circle cx="244.4" cy="599.0" r="8.5" fill="#ff7300"/>
<line x1="244.4" y1="597.8" x2="244.4" y2="600.2" stroke="#000" stroke-width="1.15"/>
<circle cx="266.4" cy="595.7" r="8.5" fill="#ff7300"/>
<line x1="266.4" y1="594.4" x2="266.4" y2="597.0" stroke="#000" stroke-width="1.15"/>
<circle cx="290.4" cy="592.8" r="8.5" fill="#ff7300"/>
<line x1="290.4" y1="591.5" x2="290.4" y2="594.1" stroke="#000" stroke-width="1.15"/>
<circle cx="310.8" cy="584.3" r="8.5" fill="#ff7300"/>
<line x1="310.8" y1="582.8" x2="310.8" y2="585.8" stroke="#000" stroke-width="1.15"/>
<circle cx="345.4" cy="567.0" r="8.5" fill="#ff7300"/>
<line x1="345.4" y1="565.2" x2="345.4" y2="568.8" stroke="#000" stroke-width="1.15"/>
<circle cx="360.0" cy="542.0" r="8.5" fill="#ff7300"/>
<line x1="360.0" y1="539.7" x2="360.0" y2="544.3" stroke="#000" stroke-width="1.15"/>
<circle cx="407.1" cy="502.3" r="8.5" fill="#ff7300"/>
<line x1="407.1" y1="499.2" x2="407.1" y2="505.4" stroke="#000" stroke-width="1.15"/>
<circle cx="370.0" cy="520.0" r="8.5" fill="#ff7300"/>
<line x1="370.0" y1="517.2" x2="370.0" y2="522.8" stroke="#000" stroke-width="1.15"/>
<circle cx="358.4" cy="538.0" r="8.5" fill="#ff7300"/>
<line x1="358.4" y1="535.6" x2="358.4" y2="540.4" stroke="#000" stroke-width="1.15"/>
<circle cx="433.6" cy="537.5" r="8.5" fill="#ff7300"/>
<line x1="433.6" y1="535.1" x2="433.6" y2="539.9" stroke="#000" stroke-width="1.15"/>
<circle cx="420.4" cy="545.0" r="8.5" fill="#ff7300"/>
<line x1="420.4" y1="542.7" x2="420.4" y2="547.3" stroke="#000" stroke-width="1.15"/>
<circle cx="378.4" cy="363.5" r="8.5" fill="#ff7300"/>
<line x1="378.4" y1="355.5" x2="378.4" y2="371.5" stroke="#000" stroke-width="1.15"/>
<circle cx="388.8" cy="466.3" r="8.5" fill="#ff7300"/>
<line x1="388.8" y1="461.8" x2="388.8" y2="470.8" stroke="#000" stroke-width="1.15"/>
<circle cx="474.4" cy="588.0" r="8.5" fill="#ff7300"/>
<line x1="474.4" y1="586.6" x2="474.4" y2="589.4" stroke="#000" stroke-width="1.15"/>
<circle cx="502.9" cy="585.3" r="8.5" fill="#ff7300"/>
<line x1="502.9" y1="583.8" x2="502.9" y2="586.8" stroke="#000" stroke-width="1.15"/>
<circle cx="508.4" cy="589.2" r="8.5" fill="#ff7300"/>
<line x1="508.4" y1="587.8" x2="508.4" y2="590.6" stroke="#000" stroke-width="1.15"/>
<circle cx="520.4" cy="593.0" r="8.5" fill="#ff7300"/>
<line x1="520.4" y1="591.7" x2="520.4" y2="594.3" stroke="#000" stroke-width="1.15"/>
<circle cx="532.4" cy="598.4" r="8.5" fill="#ff7300"/>
<line x1="532.4" y1="597.2" x2="532.4" y2="599.6" stroke="#000" stroke-width="1.15"/>
<circle cx="646.5" cy="648.0" r="8.5" fill="#ff7300"/>
<line x1="646.5" y1="647.3" x2="646.5" y2="648.7" stroke="#000" stroke-width="1.15"/>
<circle cx="688.4" cy="646.0" r="8.5" fill="#ff7300"/>
<line x1="688.4" y1="645.3" x2="688.4" y2="646.7" stroke="#000" stroke-width="1.15"/>
<circle cx="167.4" cy="637.0" r="8.5" fill="#009a00"/>
<line x1="167.4" y1="636.3" x2="167.4" y2="637.7" stroke="#000" stroke-width="1.15"/>
<circle cx="190.2" cy="625.5" r="8.5" fill="#009a00"/>
<line x1="190.2" y1="624.8" x2="190.2" y2="626.2" stroke="#000" stroke-width="1.15"/>
<circle cx="202.4" cy="621.0" r="8.5" fill="#009a00"/>
<line x1="202.4" y1="620.2" x2="202.4" y2="621.8" stroke="#000" stroke-width="1.15"/>
<circle cx="213.4" cy="615.0" r="8.5" fill="#009a00"/>
<line x1="213.4" y1="614.1" x2="213.4" y2="615.9" stroke="#000" stroke-width="1.15"/>
<circle cx="248.4" cy="598.0" r="8.5" fill="#009a00"/>
<line x1="248.4" y1="596.8" x2="248.4" y2="599.2" stroke="#000" stroke-width="1.15"/>
<circle cx="274.4" cy="596.7" r="8.5" fill="#009a00"/>
<line x1="274.4" y1="595.4" x2="274.4" y2="598.0" stroke="#000" stroke-width="1.15"/>
<circle cx="290.1" cy="596.9" r="8.5" fill="#009a00"/>
<line x1="290.1" y1="595.6" x2="290.1" y2="598.2" stroke="#000" stroke-width="1.15"/>
<circle cx="298.3" cy="594.0" r="8.5" fill="#009a00"/>
<line x1="298.3" y1="592.7" x2="298.3" y2="595.3" stroke="#000" stroke-width="1.15"/>
<circle cx="340.7" cy="560.2" r="8.5" fill="#009a00"/>
<line x1="340.7" y1="558.2" x2="340.7" y2="562.2" stroke="#000" stroke-width="1.15"/>
<circle cx="350.8" cy="547.2" r="8.5" fill="#009a00"/>
<line x1="350.8" y1="545.0" x2="350.8" y2="549.4" stroke="#000" stroke-width="1.15"/>
<circle cx="355.6" cy="559.8" r="8.5" fill="#009a00"/>
<line x1="355.6" y1="557.8" x2="355.6" y2="561.8" stroke="#000" stroke-width="1.15"/>
<circle cx="325.7" cy="589.2" r="8.5" fill="#009a00"/>
<line x1="325.7" y1="587.8" x2="325.7" y2="590.6" stroke="#000" stroke-width="1.15"/>
<circle cx="335.9" cy="571.8" r="8.5" fill="#009a00"/>
<line x1="335.9" y1="570.1" x2="335.9" y2="573.5" stroke="#000" stroke-width="1.15"/>
<circle cx="370.0" cy="518.2" r="8.5" fill="#009a00"/>
<line x1="370.0" y1="515.4" x2="370.0" y2="521.0" stroke="#000" stroke-width="1.15"/>
<circle cx="351.0" cy="547.2" r="8.5" fill="#009a00"/>
<line x1="351.0" y1="545.0" x2="351.0" y2="549.4" stroke="#000" stroke-width="1.15"/>
<circle cx="420.1" cy="528.8" r="8.5" fill="#009a00"/>
<line x1="420.1" y1="526.2" x2="420.1" y2="531.4" stroke="#000" stroke-width="1.15"/>
<circle cx="388.8" cy="366.4" r="8.5" fill="#009a00"/>
<line x1="388.8" y1="359.4" x2="388.8" y2="373.4" stroke="#000" stroke-width="1.15"/>
<circle cx="379.4" cy="406.3" r="8.5" fill="#009a00"/>
<line x1="379.4" y1="400.8" x2="379.4" y2="411.8" stroke="#000" stroke-width="1.15"/>
<circle cx="407.1" cy="448.0" r="8.5" fill="#009a00"/>
<line x1="407.1" y1="442.0" x2="407.1" y2="454.0" stroke="#000" stroke-width="1.15"/>
<circle cx="433.4" cy="561.2" r="8.5" fill="#009a00"/>
<line x1="433.4" y1="559.2" x2="433.4" y2="563.2" stroke="#000" stroke-width="1.15"/>
<circle cx="441.4" cy="572.0" r="8.5" fill="#009a00"/>
<line x1="441.4" y1="570.3" x2="441.4" y2="573.7" stroke="#000" stroke-width="1.15"/>
<circle cx="455.6" cy="585.3" r="8.5" fill="#009a00"/>
<line x1="455.6" y1="583.8" x2="455.6" y2="586.8" stroke="#000" stroke-width="1.15"/>
<circle cx="475.9" cy="595.4" r="8.5" fill="#009a00"/>
<line x1="475.9" y1="594.1" x2="475.9" y2="596.7" stroke="#000" stroke-width="1.15"/>
<circle cx="480.2" cy="593.5" r="8.5" fill="#009a00"/>
<line x1="480.2" y1="592.2" x2="480.2" y2="594.8" stroke="#000" stroke-width="1.15"/>
<circle cx="484.1" cy="590.1" r="8.5" fill="#009a00"/>
<line x1="484.1" y1="588.7" x2="484.1" y2="591.5" stroke="#000" stroke-width="1.15"/>
<circle cx="500.4" cy="595.0" r="8.5" fill="#009a00"/>
<line x1="500.4" y1="593.7" x2="500.4" y2="596.3" stroke="#000" stroke-width="1.15"/>
<circle cx="507.9" cy="599.5" r="8.5" fill="#009a00"/>
<line x1="507.9" y1="598.3" x2="507.9" y2="600.7" stroke="#000" stroke-width="1.15"/>
<circle cx="516.1" cy="599.3" r="8.5" fill="#009a00"/>
<line x1="516.1" y1="598.1" x2="516.1" y2="600.5" stroke="#000" stroke-width="1.15"/>
<circle cx="529.4" cy="601.0" r="8.5" fill="#009a00"/>
<line x1="529.4" y1="599.8" x2="529.4" y2="602.2" stroke="#000" stroke-width="1.15"/>
<circle cx="542.4" cy="601.3" r="8.5" fill="#009a00"/>
<line x1="542.4" y1="600.1" x2="542.4" y2="602.5" stroke="#000" stroke-width="1.15"/>
<circle cx="557.4" cy="603.2" r="8.5" fill="#009a00"/>
<line x1="557.4" y1="602.1" x2="557.4" y2="604.3" stroke="#000" stroke-width="1.15"/>
<circle cx="576.4" cy="607.1" r="8.5" fill="#009a00"/>
<line x1="576.4" y1="606.0" x2="576.4" y2="608.2" stroke="#000" stroke-width="1.15"/>
<circle cx="590.4" cy="612.4" r="8.5" fill="#009a00"/>
<line x1="590.4" y1="611.4" x2="590.4" y2="613.4" stroke="#000" stroke-width="1.15"/>
<circle cx="605.4" cy="614.8" r="8.5" fill="#009a00"/>
<line x1="605.4" y1="613.9" x2="605.4" y2="615.7" stroke="#000" stroke-width="1.15"/>
<circle cx="614.9" cy="617.7" r="8.5" fill="#009a00"/>
<line x1="614.9" y1="616.9" x2="614.9" y2="618.5" stroke="#000" stroke-width="1.15"/>
<circle cx="626.4" cy="636.0" r="8.5" fill="#009a00"/>
<line x1="626.4" y1="635.3" x2="626.4" y2="636.7" stroke="#000" stroke-width="1.15"/>
<circle cx="639.7" cy="641.1" r="8.5" fill="#009a00"/>
<line x1="639.7" y1="640.4" x2="639.7" y2="641.8" stroke="#000" stroke-width="1.15"/>
<circle cx="652.2" cy="646.9" r="8.5" fill="#009a00"/>
<line x1="652.2" y1="646.2" x2="652.2" y2="647.6" stroke="#000" stroke-width="1.15"/>
<circle cx="141.8" cy="650.8" r="8.5" fill="#ff0000"/>
<line x1="141.8" y1="650.1" x2="141.8" y2="651.5" stroke="#000" stroke-width="1.15"/>
<circle cx="154.6" cy="650.8" r="8.5" fill="#ff0000"/>
<line x1="154.6" y1="650.1" x2="154.6" y2="651.5" stroke="#000" stroke-width="1.15"/>
<circle cx="166.8" cy="633.9" r="8.5" fill="#ff0000"/>
<line x1="166.8" y1="633.2" x2="166.8" y2="634.6" stroke="#000" stroke-width="1.15"/>
<circle cx="172.6" cy="632.0" r="8.5" fill="#ff0000"/>
<line x1="172.6" y1="631.3" x2="172.6" y2="632.7" stroke="#000" stroke-width="1.15"/>
<circle cx="190.2" cy="627.5" r="8.5" fill="#ff0000"/>
<line x1="190.2" y1="626.8" x2="190.2" y2="628.2" stroke="#000" stroke-width="1.15"/>
<circle cx="202.2" cy="621.0" r="8.5" fill="#ff0000"/>
<line x1="202.2" y1="620.2" x2="202.2" y2="621.8" stroke="#000" stroke-width="1.15"/>
<circle cx="213.7" cy="617.2" r="8.5" fill="#ff0000"/>
<line x1="213.7" y1="616.3" x2="213.7" y2="618.1" stroke="#000" stroke-width="1.15"/>
<circle cx="230.3" cy="605.6" r="8.5" fill="#ff0000"/>
<line x1="230.3" y1="604.5" x2="230.3" y2="606.7" stroke="#000" stroke-width="1.15"/>
<circle cx="236.1" cy="606.0" r="8.5" fill="#ff0000"/>
<line x1="236.1" y1="604.9" x2="236.1" y2="607.1" stroke="#000" stroke-width="1.15"/>
<circle cx="241.9" cy="605.1" r="8.5" fill="#ff0000"/>
<line x1="241.9" y1="604.0" x2="241.9" y2="606.2" stroke="#000" stroke-width="1.15"/>
<circle cx="247.2" cy="606.5" r="8.5" fill="#ff0000"/>
<line x1="247.2" y1="605.4" x2="247.2" y2="607.6" stroke="#000" stroke-width="1.15"/>
<circle cx="253.0" cy="600.7" r="8.5" fill="#ff0000"/>
<line x1="253.0" y1="599.5" x2="253.0" y2="601.9" stroke="#000" stroke-width="1.15"/>
<circle cx="268.9" cy="601.7" r="8.5" fill="#ff0000"/>
<line x1="268.9" y1="600.5" x2="268.9" y2="602.9" stroke="#000" stroke-width="1.15"/>
<circle cx="274.2" cy="602.2" r="8.5" fill="#ff0000"/>
<line x1="274.2" y1="601.0" x2="274.2" y2="603.4" stroke="#000" stroke-width="1.15"/>
<circle cx="279.5" cy="608.4" r="8.5" fill="#ff0000"/>
<line x1="279.5" y1="607.4" x2="279.5" y2="609.4" stroke="#000" stroke-width="1.15"/>
<circle cx="284.8" cy="608.9" r="8.5" fill="#ff0000"/>
<line x1="284.8" y1="607.9" x2="284.8" y2="609.9" stroke="#000" stroke-width="1.15"/>
<circle cx="290.1" cy="608.4" r="8.5" fill="#ff0000"/>
<line x1="290.1" y1="607.4" x2="290.1" y2="609.4" stroke="#000" stroke-width="1.15"/>
<circle cx="300.2" cy="608.9" r="8.5" fill="#ff0000"/>
<line x1="300.2" y1="607.9" x2="300.2" y2="609.9" stroke="#000" stroke-width="1.15"/>
<circle cx="305.5" cy="603.1" r="8.5" fill="#ff0000"/>
<line x1="305.5" y1="602.0" x2="305.5" y2="604.2" stroke="#000" stroke-width="1.15"/>
<circle cx="310.8" cy="594.0" r="8.5" fill="#ff0000"/>
<line x1="310.8" y1="592.7" x2="310.8" y2="595.3" stroke="#000" stroke-width="1.15"/>
<circle cx="340.7" cy="551.6" r="8.5" fill="#ff0000"/>
<line x1="340.7" y1="549.5" x2="340.7" y2="553.7" stroke="#000" stroke-width="1.15"/>
<circle cx="325.7" cy="579.5" r="8.5" fill="#ff0000"/>
<line x1="325.7" y1="577.9" x2="325.7" y2="581.1" stroke="#000" stroke-width="1.15"/>
<circle cx="331.0" cy="578.1" r="8.5" fill="#ff0000"/>
<line x1="331.0" y1="576.5" x2="331.0" y2="579.7" stroke="#000" stroke-width="1.15"/>
<circle cx="336.4" cy="579.0" r="8.5" fill="#ff0000"/>
<line x1="336.4" y1="577.4" x2="336.4" y2="580.6" stroke="#000" stroke-width="1.15"/>
<circle cx="355.5" cy="487.8" r="8.5" fill="#ff0000"/>
<line x1="355.5" y1="484.4" x2="355.5" y2="491.2" stroke="#000" stroke-width="1.15"/>
<circle cx="350.7" cy="528.8" r="8.5" fill="#ff0000"/>
<line x1="350.7" y1="526.2" x2="350.7" y2="531.4" stroke="#000" stroke-width="1.15"/>
<circle cx="433.6" cy="523.5" r="8.5" fill="#ff0000"/>
<line x1="433.6" y1="520.8" x2="433.6" y2="526.2" stroke="#000" stroke-width="1.15"/>
<circle cx="438.3" cy="547.2" r="8.5" fill="#ff0000"/>
<line x1="438.3" y1="545.0" x2="438.3" y2="549.4" stroke="#000" stroke-width="1.15"/>
<circle cx="388.8" cy="322.2" r="8.5" fill="#ff0000"/>
<line x1="388.8" y1="312.2" x2="388.8" y2="332.2" stroke="#000" stroke-width="1.15"/>
<circle cx="379.4" cy="371.4" r="8.5" fill="#ff0000"/>
<line x1="379.4" y1="364.6" x2="379.4" y2="378.2" stroke="#000" stroke-width="1.15"/>
<circle cx="407.1" cy="367.1" r="8.5" fill="#ff0000"/>
<line x1="407.1" y1="359.1" x2="407.1" y2="375.1" stroke="#000" stroke-width="1.15"/>
<circle cx="370.0" cy="421.2" r="8.5" fill="#ff0000"/>
<line x1="370.0" y1="414.9" x2="370.0" y2="427.5" stroke="#000" stroke-width="1.15"/>
<circle cx="420.6" cy="421.2" r="8.5" fill="#ff0000"/>
<line x1="420.6" y1="415.2" x2="420.6" y2="427.2" stroke="#000" stroke-width="1.15"/>
<circle cx="442.1" cy="564.1" r="8.5" fill="#ff0000"/>
<line x1="442.1" y1="562.2" x2="442.1" y2="566.0" stroke="#000" stroke-width="1.15"/>
<circle cx="455.1" cy="577.0" r="8.5" fill="#ff0000"/>
<line x1="455.1" y1="575.4" x2="455.1" y2="578.6" stroke="#000" stroke-width="1.15"/>
<circle cx="459.5" cy="603.6" r="8.5" fill="#ff0000"/>
<line x1="459.5" y1="602.5" x2="459.5" y2="604.7" stroke="#000" stroke-width="1.15"/>
<circle cx="463.3" cy="600.7" r="8.5" fill="#ff0000"/>
<line x1="463.3" y1="599.5" x2="463.3" y2="601.9" stroke="#000" stroke-width="1.15"/>
<circle cx="475.9" cy="611.8" r="8.5" fill="#ff0000"/>
<line x1="475.9" y1="610.8" x2="475.9" y2="612.8" stroke="#000" stroke-width="1.15"/>
<circle cx="484.5" cy="612.3" r="8.5" fill="#ff0000"/>
<line x1="484.5" y1="611.3" x2="484.5" y2="613.3" stroke="#000" stroke-width="1.15"/>
<circle cx="499.0" cy="612.3" r="8.5" fill="#ff0000"/>
<line x1="499.0" y1="611.3" x2="499.0" y2="613.3" stroke="#000" stroke-width="1.15"/>
<circle cx="500.2" cy="616.9" r="8.5" fill="#ff0000"/>
<line x1="500.2" y1="616.0" x2="500.2" y2="617.8" stroke="#000" stroke-width="1.15"/>
<circle cx="507.9" cy="617.8" r="8.5" fill="#ff0000"/>
<line x1="507.9" y1="617.0" x2="507.9" y2="618.6" stroke="#000" stroke-width="1.15"/>
<circle cx="516.1" cy="615.0" r="8.5" fill="#ff0000"/>
<line x1="516.1" y1="614.1" x2="516.1" y2="615.9" stroke="#000" stroke-width="1.15"/>
<circle cx="523.8" cy="604.8" r="8.5" fill="#ff0000"/>
<line x1="523.8" y1="603.7" x2="523.8" y2="605.9" stroke="#000" stroke-width="1.15"/>
<circle cx="531.5" cy="603.9" r="8.5" fill="#ff0000"/>
<line x1="531.5" y1="602.8" x2="531.5" y2="605.0" stroke="#000" stroke-width="1.15"/>
<circle cx="538.7" cy="604.8" r="8.5" fill="#ff0000"/>
<line x1="538.7" y1="603.7" x2="538.7" y2="605.9" stroke="#000" stroke-width="1.15"/>
<circle cx="546.5" cy="609.2" r="8.5" fill="#ff0000"/>
<line x1="546.5" y1="608.2" x2="546.5" y2="610.2" stroke="#000" stroke-width="1.15"/>
<circle cx="550.3" cy="606.3" r="8.5" fill="#ff0000"/>
<line x1="550.3" y1="605.2" x2="550.3" y2="607.4" stroke="#000" stroke-width="1.15"/>
<circle cx="557.5" cy="605.8" r="8.5" fill="#ff0000"/>
<line x1="557.5" y1="604.7" x2="557.5" y2="606.9" stroke="#000" stroke-width="1.15"/>
<circle cx="564.8" cy="611.1" r="8.5" fill="#ff0000"/>
<line x1="564.8" y1="610.1" x2="564.8" y2="612.1" stroke="#000" stroke-width="1.15"/>
<circle cx="572.0" cy="609.2" r="8.5" fill="#ff0000"/>
<line x1="572.0" y1="608.2" x2="572.0" y2="610.2" stroke="#000" stroke-width="1.15"/>
<circle cx="575.4" cy="614.5" r="8.5" fill="#ff0000"/>
<line x1="575.4" y1="613.6" x2="575.4" y2="615.4" stroke="#000" stroke-width="1.15"/>
<circle cx="582.6" cy="614.0" r="8.5" fill="#ff0000"/>
<line x1="582.6" y1="613.1" x2="582.6" y2="614.9" stroke="#000" stroke-width="1.15"/>
<circle cx="589.8" cy="615.4" r="8.5" fill="#ff0000"/>
<line x1="589.8" y1="614.5" x2="589.8" y2="616.3" stroke="#000" stroke-width="1.15"/>
<circle cx="596.6" cy="615.4" r="8.5" fill="#ff0000"/>
<line x1="596.6" y1="614.5" x2="596.6" y2="616.3" stroke="#000" stroke-width="1.15"/>
<circle cx="603.3" cy="619.3" r="8.5" fill="#ff0000"/>
<line x1="603.3" y1="618.5" x2="603.3" y2="620.1" stroke="#000" stroke-width="1.15"/>
<circle cx="610.6" cy="625.1" r="8.5" fill="#ff0000"/>
<line x1="610.6" y1="624.4" x2="610.6" y2="625.8" stroke="#000" stroke-width="1.15"/>
<circle cx="630.3" cy="630.9" r="8.5" fill="#ff0000"/>
<line x1="630.3" y1="630.2" x2="630.3" y2="631.6" stroke="#000" stroke-width="1.15"/>
<circle cx="637.1" cy="627.5" r="8.5" fill="#ff0000"/>
<line x1="637.1" y1="626.8" x2="637.1" y2="628.2" stroke="#000" stroke-width="1.15"/>
<circle cx="643.3" cy="629.9" r="8.5" fill="#ff0000"/>
<line x1="643.3" y1="629.2" x2="643.3" y2="630.6" stroke="#000" stroke-width="1.15"/>
<circle cx="617.1" cy="650.6" r="8.5" fill="#ff0000"/>
<line x1="617.1" y1="649.9" x2="617.1" y2="651.3" stroke="#000" stroke-width="1.15"/>
<circle cx="625.2" cy="650.6" r="8.5" fill="#ff0000"/>
<line x1="625.2" y1="649.9" x2="625.2" y2="651.3" stroke="#000" stroke-width="1.15"/>
<circle cx="630.6" cy="631.0" r="8.5" fill="#ff0000"/>
<line x1="630.6" y1="630.3" x2="630.6" y2="631.7" stroke="#000" stroke-width="1.15"/>
<circle cx="636.8" cy="628.1" r="8.5" fill="#ff0000"/>
<line x1="636.8" y1="627.4" x2="636.8" y2="628.8" stroke="#000" stroke-width="1.15"/>
<circle cx="643.6" cy="630.0" r="8.5" fill="#ff0000"/>
<line x1="643.6" y1="629.3" x2="643.6" y2="630.7" stroke="#000" stroke-width="1.15"/>
<circle cx="649.8" cy="633.4" r="8.5" fill="#ff0000"/>
<line x1="649.8" y1="632.7" x2="649.8" y2="634.1" stroke="#000" stroke-width="1.15"/>
<circle cx="656.6" cy="637.2" r="8.5" fill="#ff0000"/>
<line x1="656.6" y1="636.5" x2="656.6" y2="637.9" stroke="#000" stroke-width="1.15"/>
<circle cx="662.4" cy="645.4" r="8.5" fill="#ff0000"/>
<line x1="662.4" y1="644.7" x2="662.4" y2="646.1" stroke="#000" stroke-width="1.15"/>
<circle cx="674.9" cy="645.0" r="8.5" fill="#ff0000"/>
<line x1="674.9" y1="629.0" x2="674.9" y2="661.0" stroke="#000" stroke-width="1.15"/>
<circle cx="681.4" cy="649.0" r="8.5" fill="#ff0000"/>
<line x1="681.4" y1="631.0" x2="681.4" y2="667.0" stroke="#000" stroke-width="1.15"/>
<circle cx="393.3" cy="650.6" r="8.5" fill="#ff0000"/>
<line x1="393.3" y1="639.6" x2="393.3" y2="661.6" stroke="#000" stroke-width="1.15"/>
<circle cx="492.3" cy="650.6" r="8.5" fill="#ff0000"/>
<line x1="492.3" y1="639.6" x2="492.3" y2="661.6" stroke="#000" stroke-width="1.15"/>
</g>
<rect x="124.1" y="80.3" width="611.3" height="570.5" fill="none" stroke="#000" stroke-width="5.6"/>
<text y="652.10" font-size="36.5" text-anchor="middle" x="64.65 82.5 99.95">0.0</text>
<text y="579.96" font-size="36.5" text-anchor="middle" x="64.65 82.5 99.95">0.5</text>
<text y="498.51" font-size="36.5" text-anchor="middle" x="64.65 82.5 99.95">1.0</text>
<text y="417.07" font-size="36.5" text-anchor="middle" x="64.65 82.5 99.95">1.5</text>
<text y="335.63" font-size="36.5" text-anchor="middle" x="64.65 82.5 99.95">2.0</text>
<text y="254.19" font-size="36.5" text-anchor="middle" x="64.65 82.5 99.95">2.5</text>
<text y="172.74" font-size="36.5" text-anchor="middle" x="64.65 82.5 99.95">3.0</text>
<text y="107.80" font-size="36.5" text-anchor="middle" x="64.65 82.5 99.95">3.5</text>
<text y="695.7" font-size="36.5" text-anchor="middle" x="92.65 110.65 127.85 150.50">2.50</text>
<text y="695.7" font-size="36.5" text-anchor="middle" x="215.03 233.03 250.23 272.88">3.00</text>
<text y="695.7" font-size="36.5" text-anchor="middle" x="337.41 355.41 372.61 395.26">3.50</text>
<text y="695.7" font-size="36.5" text-anchor="middle" x="459.79 477.79 494.99 517.64">4.00</text>
<text y="695.7" font-size="36.5" text-anchor="middle" x="582.17 600.17 617.37 640.02">4.50</text>
<text y="695.7" font-size="36.5" text-anchor="middle" x="704.55 722.55 739.75 762.40">5.00</text>
<text x="379.41" y="766.00" font-size="49" textLength="27.34" lengthAdjust="spacingAndGlyphs" stroke="#fff" stroke-width="0.7">R</text>
<text x="432.20" y="766.00" font-size="55" textLength="16.95" lengthAdjust="spacingAndGlyphs" stroke="#fff" stroke-width="1.2">[</text>
<text x="454.07" y="766.00" font-size="45" textLength="44.15" lengthAdjust="spacingAndGlyphs" stroke="#fff" stroke-width="0.7">m</text>
<text x="503.18" y="766.00" font-size="55" textLength="16.95" lengthAdjust="spacingAndGlyphs" stroke="#fff" stroke-width="1.2">]</text>
<g transform="translate(39.8 451.8) rotate(-90)"><text x="-0.88" y="0.00" font-size="49" textLength="23.30" lengthAdjust="spacingAndGlyphs" stroke="#fff" stroke-width="0.7">T</text><text x="25.00" y="11.90" font-size="29" textLength="15.51" lengthAdjust="spacingAndGlyphs">e</text><text x="65.35" y="0.00" font-size="55" textLength="15.98" lengthAdjust="spacingAndGlyphs" stroke="#fff" stroke-width="1.2">[</text><text x="87.08" y="0.00" font-size="46" textLength="81.57" lengthAdjust="spacing" stroke="#fff" stroke-width="0.7">keV</text><text x="174.81" y="0.00" font-size="55" textLength="15.98" lengthAdjust="spacingAndGlyphs" stroke="#fff" stroke-width="1.2">]</text></g>
<text x="152.38" y="126.90" font-size="37.5" textLength="97.18" lengthAdjust="spacing">Laser</text>
<text x="267.50" y="126.90" font-size="37.5" textLength="166.92" lengthAdjust="spacing">repetition</text>
<text x="453.50" y="126.90" font-size="37.5" textLength="69.82" lengthAdjust="spacing">rate</text>
<text x="542.08" y="126.90" font-size="37.5" textLength="11.78" lengthAdjust="spacingAndGlyphs" stroke="#000" stroke-width="1.6" stroke-linejoin="round">:</text>
<text x="572.33" y="126.90" font-size="37.5" textLength="44.64" lengthAdjust="spacing">20</text>
<text x="635.50" y="126.90" font-size="37.5" textLength="65.33" lengthAdjust="spacing">kHz</text>
<text x="152.50" y="172.50" font-size="37.5" textLength="158.60" lengthAdjust="spacing">temporal</text>
<text x="330.90" y="172.50" font-size="37.5" textLength="173.57" lengthAdjust="spacing">resolution</text>
<text x="524.38" y="172.50" font-size="37.5" textLength="11.50" lengthAdjust="spacingAndGlyphs" stroke="#000" stroke-width="1.6" stroke-linejoin="round">:</text>
<text x="554.00" y="172.50" font-size="37.5" textLength="78.98" lengthAdjust="spacing">50.0</text>
<text x="675.88" y="172.50" font-size="37.5" textLength="20.95" lengthAdjust="spacingAndGlyphs">s</text>
<text x="652.72" y="172.50" font-size="37.5" textLength="19.80" lengthAdjust="spacingAndGlyphs" font-style="italic">μ</text>
<circle cx="552.1" cy="222.9" r="10.8" fill="#ff0000"/>
<text x="568.71" y="232.00" font-size="29.5" textLength="10.26" lengthAdjust="spacingAndGlyphs" stroke="#000" stroke-width="1.4" stroke-linejoin="round">:</text>
<text x="593.65" y="232.00" font-size="29.5" textLength="131.76" lengthAdjust="spacing" stroke="#000" stroke-width="0.4">8.00310s</text>
<circle cx="552.1" cy="257.0" r="10.8" fill="#009a00"/>
<text x="568.71" y="266.12" font-size="29.5" textLength="10.26" lengthAdjust="spacingAndGlyphs" stroke="#000" stroke-width="1.4" stroke-linejoin="round">:</text>
<text x="593.65" y="266.12" font-size="29.5" textLength="131.76" lengthAdjust="spacing" stroke="#000" stroke-width="0.4">8.00325s</text>
<circle cx="552.1" cy="291.1" r="10.8" fill="#ff7300"/>
<text x="568.71" y="300.24" font-size="29.5" textLength="10.26" lengthAdjust="spacingAndGlyphs" stroke="#000" stroke-width="1.4" stroke-linejoin="round">:</text>
<text x="593.65" y="300.24" font-size="29.5" textLength="131.76" lengthAdjust="spacing" stroke="#000" stroke-width="0.4">8.00335s</text>
<circle cx="552.1" cy="325.3" r="10.8" fill="#0580f0"/>
<text x="568.71" y="334.36" font-size="29.5" textLength="10.26" lengthAdjust="spacingAndGlyphs" stroke="#000" stroke-width="1.4" stroke-linejoin="round">:</text>
<text x="593.65" y="334.36" font-size="29.5" textLength="131.76" lengthAdjust="spacing" stroke="#000" stroke-width="0.4">8.00375s</text>
<circle cx="552.1" cy="359.4" r="10.8" fill="#f898e8"/>
<text x="568.71" y="368.48" font-size="29.5" textLength="10.26" lengthAdjust="spacingAndGlyphs" stroke="#000" stroke-width="1.4" stroke-linejoin="round">:</text>
<text x="593.65" y="368.48" font-size="29.5" textLength="131.76" lengthAdjust="spacing" stroke="#000" stroke-width="0.4">8.00420s</text>
<circle cx="552.1" cy="393.5" r="10.8" fill="#000000"/>
<text x="568.71" y="402.60" font-size="29.5" textLength="10.26" lengthAdjust="spacingAndGlyphs" stroke="#000" stroke-width="1.4" stroke-linejoin="round">:</text>
<text x="593.65" y="402.60" font-size="29.5" textLength="131.76" lengthAdjust="spacing" stroke="#000" stroke-width="0.4">8.00615s</text>
<text x="9.67" y="59.50" font-size="88" textLength="27.86" lengthAdjust="spacingAndGlyphs" stroke="#fff" stroke-width="1.2">(</text>
<text x="43.89" y="58.60" font-size="65" textLength="39.55" lengthAdjust="spacingAndGlyphs" stroke="#fff" stroke-width="1.4">b</text>
<text x="90.04" y="59.50" font-size="88" textLength="26.95" lengthAdjust="spacingAndGlyphs" stroke="#fff" stroke-width="1.2">)</text></g>
</svg>
</body></html>
